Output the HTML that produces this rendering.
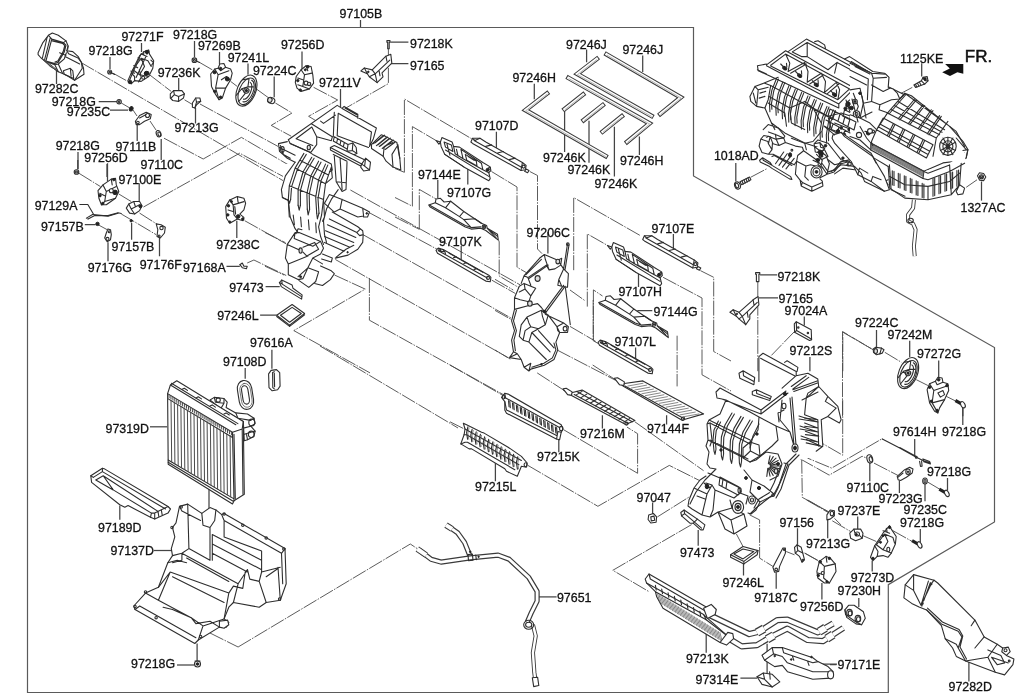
<!DOCTYPE html>
<html><head><meta charset="utf-8"><title>97105B</title>
<style>html,body{margin:0;padding:0;background:#fff}svg{display:block;will-change:transform}text{font-family:"Liberation Sans",sans-serif;font-size:13px;fill:#111;stroke:#111;stroke-width:.3px}.f{fill:none;stroke:#5a5a5a;stroke-width:1.2}.l{fill:none;stroke:#444;stroke-width:1.25}.d{fill:none;stroke:#4a4a4a;stroke-width:.9;stroke-dasharray:15 1.3 1.5 1.3}.p{fill:#fff;stroke:#2e2e2e;stroke-width:1.1;stroke-linejoin:round}.q{fill:none;stroke:#2e2e2e;stroke-width:1.1;stroke-linejoin:round;stroke-linecap:round}.t{fill:none;stroke:#555;stroke-width:.7}.u{fill:none;stroke:#4a4a4a;stroke-width:1}.g{fill:#ddd;stroke:#2e2e2e;stroke-width:1.1;stroke-linejoin:round}.k{fill:#222;stroke:#222;stroke-width:1}.w{fill:#fff;stroke:none}</style></head><body>
<svg width="1024" height="700" viewBox="0 0 1024 700">
<path class="f" d="M27.5 27.5H693.5V176L994.5 347.5V522L888.3 584.7V692.5H27.5Z"/>
<path class="l" d="M141.5 43 141.5 52M194.5 41 194.5 57M219.5 52 219.5 64M110 57 110 69M178.7 78 178.7 90M56.5 70.5 56.5 84M340.5 89 340.5 107M98.7 101.7 117 101.7M110 110 128 110M195.5 108 195.5 123.5M137.2 124 137.2 141M161.2 139 161.2 160M78 152 78 169M107 164 107 177"/>
<path class="l" d="M248 63.5 248 74.8M274.2 76.5 274.2 97.2M302 51.6 302 69"/>
<path class="d" d="M199.5 62.4 212.3 69.8M230.6 81.4 237.2 86.4M256.3 88.9 268.8 98M275.4 103 292 113 271.2 125.4 291.2 136.2M313.6 87.3 337.7 100 308.6 116.3 316.9 121.3"/>
<path class="d" d="M81 62.5 283 180.6M113 73.2 128 81.5M149.6 74.8 171.2 91.4M184.5 99.8 195 106M200 104 278 146.4M121.3 103 131.3 108.9M133 110 137 116M150 121 156 130M164 138.2 203.2 159 241.4 137.4 291.2 166.5M143.5 207 239.7 153.2 283 176.4"/>
<path class="l" d="M84.8 224.7 95.6 224.7M131.6 223.1 131.6 239.7M108 242.2 108 261.3M159.5 238 159.5 256.3M139.2 183.2 139.2 201.5M107.5 163.3 107.5 181.6M77.8 160 77.8 169.6"/>
<path class="d" d="M79 173.3 100.5 186.6M118.8 194 131.2 201.5M139.6 213.1 157.8 224.7M121.3 214 131.2 219.8 156.2 234.7M98 224.7 107.2 229.7"/>
<path class="d" d="M265 232.5 285.5 242.7M265 266.2 284 275"/>
<path class="d" d="M350.4 190 523.8 286.9M368 212 437.2 249.3M362.2 234.2 511.3 318.2M335.4 259.5 509.2 358.3M369.4 278 369.4 320.2 505.6 395.9M320 346 458 428M491.7 280.1 515.4 293.5"/>
<path class="l" d="M236.8 220.7 236.8 238.1M226.5 266.3 239.8 266.3"/>
<path class="d" d="M244.7 220.7 286.2 243.9M247.2 263 253.9 260 286.2 275.5"/>
<path class="l" d="M265.6 286.6 279.7 286.6M260.1 315.2 276.7 315.2M271.9 349.7 271.9 368.8M245.2 367.9 245.2 378.7"/>
<path class="d" d="M334.5 275 365.2 289.1 293.8 330.6 370 372.9"/>
<path class="l" d="M360.5 20 360.5 27"/>
<path class="l" d="M390.4 42.2 408.4 42.2M390.4 63.5 408.4 63.5"/>
<path class="d" d="M388.4 48.8 388.4 83.6 345.9 108"/>
<path class="l" d="M496.4 131.7 496.4 148.6M467.8 169.1 467.8 184.5"/>
<path class="l" d="M437.8 180 437.8 198.3M461.2 245.9 461.2 259.1"/>
<path class="d" d="M404.4 172.3 404.4 99 472 139M529.8 171.5 537.5 175.5 537.5 249 542 253.6M412.4 206.2 412.4 126.6 436 140.5M491.5 171.5 517 187 517 267.2 527 273M419.3 229.3 419.3 189.4 436 199M498.8 240.4 499.2 242 499.2 276 523.6 290.4M395 168.5 404.4 172.3M395 197.5 412.4 206.2M395 217 419.3 229.3M573.7 270.2 573.7 197.6 640 235.4M587.3 306.6 587.3 233.9 608.5 246M593.4 339.9 593.4 289.9 602.5 296"/>
<path class="l" d="M534.3 83.7 534.3 99.3M586.6 49.5 586.6 62.2M642.7 55.4 642.7 72M564.6 110.1 564.6 152.1M589 120.8 589 162.8M614.4 126.7 614.4 176.5M639.4 136.4 639.4 155"/>
<path class="l" d="M735.8 163.1 735.8 181.4"/>
<path class="d" d="M750.8 177.2 766.5 168.9"/>
<path class="l" d="M921.7 63.3 921.7 76.6"/>
<path class="d" d="M912.3 87.4 899.8 94"/>
<path class="l" d="M981.5 181.5 981.5 200.6"/>
<path class="d" d="M966.2 187.3 977 179.8"/>
<path class="l" d="M547.9 232.1 547.9 253.6"/>
<path class="d" d="M495 279.3 513.2 290M495 310.4 512.1 320M495 350 511.1 359.6M570 326.4 595.7 341.4M557.1 350 615 380M570 290 585 300.7"/>
<path class="l" d="M673.4 234 673.4 250M638.5 274 638.5 287M637.3 310.5 652.3 310.5M635.6 347.5 635.6 360"/>
<path class="d" d="M700.4 270.6 713.7 277.3 713.7 351.5 731 361M663.1 277.3 702 298 702 374.8 731 391M677.1 335.7 677.1 386.4M593.2 300 593.2 340.7 598.2 343.5"/>
<path class="l" d="M666.6 415.2 666.6 424.4M602.4 415.2 602.4 428.4M558.8 431 558.8 452.2M495.4 462.7 495.4 481.2M652.6 502.4 652.6 514.3"/>
<path class="d" d="M450 365 502.8 395.4M450 421.8 463.2 428.4M563.6 429.7 637.6 473.3 637.6 433.7 627 427.1M527.9 465.4 597.9 506.3 669.3 465.4 703.6 482.6M634.9 421.8 703.6 470.7M537.2 372.9 563.6 390.1M592.7 365 615.1 379.5M657.4 516.9 693.1 494.5"/>
<path class="d" d="M691.6 524.6 612.8 570.3 648.9 591.6"/>
<path class="l" d="M150 426.8 167.2 426.8"/>
<path class="l" d="M209 489 209 532.9"/>
<path class="l" d="M119.8 505.6 119.8 519.7"/>
<path class="l" d="M153.8 550.5 172 550.5"/>
<path class="l" d="M197.1 643.5 197.1 661.1"/>
<path class="d" d="M210 633 238.1 647"/>
<path class="d" d="M238.1 647 410.3 544 418.7 549.6"/>
<path class="l" d="M177 665 194 665"/>
<path class="l" d="M538.5 596.9 556.6 596.9"/>
<path class="l" d="M698.2 529.9 698.2 545.7M743.5 563.9 743.5 575.5M776.2 572.2 776.2 588.8M797.5 528.2 797.5 544.8M821.9 583 821.9 599.6M827.7 519.9 827.7 538.2"/>
<path class="d" d="M736.4 534 743 546.5M749.7 514.9 759.6 519.9 759.6 558.1 772.9 566.4M786.2 551.5 794.5 554.8M804.5 553.1 819.4 561.4M807.8 500 827.7 511.6M834.4 518.3 841 524.9"/>
<path class="l" d="M876.5 329.9 876.5 347.3M909.7 340.7 909.7 357.3M938.7 360.6 938.7 377.2M962.8 407.1 962.8 416.2"/>
<path class="d" d="M842.5 416.2 842.5 331.5 873.2 349.8M884.8 352.3 901.4 362.3M916.3 379.7 927.9 385.5M946.2 396.3 957.8 402.1"/>
<path class="l" d="M914.7 439 914.7 456.4M962.8 407.5 962.8 424.9M869.8 463.1 869.8 481.3M899.4 480.5 899.4 493M925 483.8 925 501.3M947.5 478 947.5 490.5"/>
<path class="d" d="M874 463.1 898.1 475.5M927.9 482.2 940.4 489.6"/>
<path class="d" d="M842.7 400 842.7 455.2 800 430.5M797.6 454 831.6 468.1 882 438.8 883 439.3M799.9 458.7 829.2 475.1 862.1 456.3 866.8 458.1M801.7 458.7 802.3 497.4 829.5 512.2"/>
<path class="l" d="M857.7 516.6 857.7 529.1M872.2 560.6 872.2 571.4M920.3 529.1 920.3 542.3"/>
<path class="d" d="M806.6 500 828.2 512.5M832.3 520.8 850.6 531.5M863 535.7 876.3 541.5M892.9 530.7 913.7 542.3M804.9 553.1 818.2 560.6"/>
<path class="l" d="M968.9 661 968.9 681.4M858.8 597.9 858.8 607.1M830 664.7 836.5 664.7"/>
<path class="l" d="M706.2 633.6 706.2 652.7M820.4 664.1 836.9 664.1M740.4 678.1 757 678.1M767.1 643.8 767.1 673"/>
<path class="l" d="M760.1 274.9 777.2 274.9M758.9 297.8 778 297.8M804.3 316.4 804.3 325.6M809.9 357.1 809.9 371.2"/>
<path class="d" d="M757.8 281.6 757.8 371.2M794.6 331.4 771.4 355.4M842.8 371.2 842.8 332.2 871 348.5"/>
<path class="p" d="M38.1 52.8 42.9 42.6 48.4 35.3 52.3 33.1 58.3 35.3 66 40.9 68.1 46 66.8 50.7 72.8 51.6 78 56.3 81.4 62.3 83.5 68.3 84 74.3 74.6 80.3 67.7 76 62.6 73.4 58.3 71.7 54.8 69.1 50.6 66.6 45.4 61.4 41.1 58 38.1 54.6Z"/>
<path class="q" d="M47.1 37.4 42.4 58M50.1 38.3 44.6 59.7M51.8 39.1 45.9 61M48.4 35.3 51.8 39.1 63.4 42.6 66 40.9M63.4 42.6 66 45.1 64.3 52 58.3 62.3 54.8 63.6 45.9 61M52.3 40.9 62.6 43.4 64.7 45.6 63.2 51.6 57.8 61 55 62.1M59.6 52.8 66 55.4M66.4 52.8 64.3 58.8 58.3 64 54.8 64.8 45.4 61.4M66 57.1 79.7 64M66.8 50.7 68.6 53.7 78 58 81.4 62.3M68.1 46 67.7 49.4M63.4 70.8 70.3 68.3 72.8 70.8 73.7 78.6 64.3 74.3 63.4 70.8M70.3 68.3 71.1 76M58.3 64 62.6 73.4M81.4 62.3 82.3 68.3 74.6 80.3M54.8 64.8 58.3 71.7"/>
<path class="u" d="M42.9 59.9 55.7 70.2M43.7 59.3 56.6 69.6"/>
<path class="p" d="M127.9 80.6 131.2 73.1 139.6 55.7 144.5 51.6 148.7 49.9 149.5 54.1 153.7 60.7 152.8 68.2 148.7 76.5 141.2 81.4 134.6 80.6 131.2 83.9Z"/>
<path class="q" d="M132.9 69.8 141.2 58.2 147.9 60.7 151.2 66.5M132.9 69.8 139.6 74.8 148.7 76.5M139.6 74.8 144.5 66.5 141.2 58.2M131.2 73.1 134.6 76.5 134.6 80.6M141.2 54.1 147 56.5M143.7 51.6 143.7 54.9"/>
<ellipse class="k" cx="146.2" cy="73.6" rx="1.8" ry="1.8"/>
<ellipse class="k" cx="147.0" cy="52.4" rx="1.3" ry="1.7"/>
<ellipse class="k" cx="129.6" cy="82.3" rx="1.3" ry="1.3"/>
<ellipse class="p" cx="143.2" cy="77.8" rx="1.5" ry="1.5"/>
<path class="q" d="M141.2 53.6 129.6 80M145.7 56.9 136.1 77.4M138 57.8 141.9 60.4M133.8 65.5 137.7 67.8M130.9 71 134.5 73.2M139.3 69.7 141.2 77.4 138.6 81.9M150.9 60.1 153.4 62.6 151.5 65.2"/>
<path class="u" d="M138.6 58.5 141.2 60.1M134.5 66.2 137 67.7M131.6 71.6 133.8 72.9"/>
<ellipse class="k" cx="146.7" cy="73.2" rx="2.4" ry="1.9"/>
<ellipse class="k" cx="147.0" cy="51.7" rx="1.8" ry="1.4"/>
<ellipse class="k" cx="130.3" cy="81.9" rx="1.4" ry="1.7"/>
<ellipse class="p" cx="109.7" cy="72.0" rx="2.0" ry="2.0"/>
<ellipse class="q" cx="109.7" cy="72.0" rx="0.8" ry="0.8"/>
<path class="q" d="M111.3 72.8 114.6 74.5"/>
<ellipse class="p" cx="119.1" cy="101.7" rx="2.2" ry="2.2"/>
<ellipse class="q" cx="119.1" cy="101.7" rx="0.8" ry="0.8"/>
<ellipse class="k" cx="131.2" cy="108.8" rx="1.7" ry="2.3" transform="rotate(30 131.2 108.8)"/>
<path class="p" d="M170.3 93.9 173.6 90.6 181.9 90.6 184.4 93.9 183.5 98 178.6 101.4 172.8 100.5 170.3 98Z"/>
<path class="q" d="M173.6 90.6 174.4 94.7 178.6 96.4 178.6 101.4M178.6 96.4 184.4 93.9M174.4 94.7 171.1 98"/>
<path class="p" d="M135.4 121.3 139.6 115.5 146.2 112.2 151.2 114.6 150.3 118.8 144.5 121.3 139.6 124.6 136.2 124.6Z"/>
<ellipse class="q" cx="147.5" cy="115.5" rx="2.0" ry="2.0"/>
<ellipse class="q" cx="137.9" cy="122.6" rx="1.3" ry="1.3"/>
<path class="q" d="M139.6 118 146.2 114.6"/>
<ellipse class="p" cx="158.6" cy="133.7" rx="2.3" ry="3.3" transform="rotate(-20 158.6 133.7)"/>
<ellipse class="q" cx="159.3" cy="134.1" rx="1.3" ry="2.2" transform="rotate(-20 159.3 134.1)"/>
<ellipse class="p" cx="194.4" cy="60.2" rx="2.3" ry="2.3"/>
<ellipse class="q" cx="194.4" cy="60.2" rx="1.0" ry="1.0"/>
<path class="q" d="M196.5 61 199.5 62.4"/>
<path class="p" d="M210.7 74 214.8 69 218.1 68.2 219.8 64 223.9 63.5 225.6 67.3 230.6 69 232.2 73.1 230.6 79.8 225.6 88.1 222.3 98 219 99.7 214.8 93.1 211.5 86.4Z"/>
<path class="q" d="M214.8 69 218.1 74.8 228.9 70.7M218.1 74.8 215.6 88.1 219 99.7M215.6 88.1 225.6 88.1M218.1 68.2 220.6 70.7 225.6 67.3M221.4 79.8 226.4 76.5 229.7 79.8"/>
<ellipse class="k" cx="214.5" cy="72.3" rx="1.5" ry="1.5"/>
<ellipse class="k" cx="227.3" cy="79.0" rx="2.0" ry="2.0"/>
<ellipse class="k" cx="220.6" cy="68.5" rx="1.2" ry="1.2"/>
<ellipse class="k" cx="214.8" cy="91.4" rx="1.2" ry="1.2"/>
<ellipse class="k" cx="220.6" cy="97.2" rx="1.2" ry="1.2"/>
<g transform="rotate(22 246.4 90.6)"><ellipse class="p" cx="246.4" cy="90.6" rx="9.3" ry="16.3"/><ellipse class="q" cx="247.0" cy="91.1" rx="7.6" ry="14"/><path class="q" d="M247.4 79.1A5.8 11.5 0 0 1 247.4 102.1"/><path class="q" d="M246.9 81.6A4 9 0 0 1 246.9 99.6"/><path class="q" d="M239.4 81.6L244.4 78.6L246.4 86.6L241.4 90.6L238.9 98.6M241.4 90.6L246.4 93.6L243.4 103.6M246.4 86.6L251.4 84.6"/><circle class="g" cx="246.4" cy="90.6" r="2.6"/><circle class="k" cx="246.4" cy="90.6" r="1"/></g>
<ellipse class="p" cx="271.2" cy="100.5" rx="3.7" ry="3.0" transform="rotate(20 271.2 100.5)"/>
<ellipse class="g" cx="269.9" cy="100.0" rx="2.2" ry="2.5" transform="rotate(20 269.9 100.0)"/>
<path class="p" d="M296.2 76.5 301.1 69.8 306.1 65.7 311.1 66.5 312.8 74.8 313.6 83.1 309.4 88.9 301.1 91.4 297 88.1 295.3 82.3Z"/>
<path class="q" d="M301.1 69.8 304.5 74.8 311.9 73.1M304.5 74.8 302.8 86.4 309.4 88.9M297.8 78.1 302.8 79.8M297.8 84.8 302.8 86.4M306.1 65.7 307.8 70.7"/>
<ellipse class="p" cx="306.1" cy="83.1" rx="2.0" ry="2.0"/>
<ellipse class="g" cx="309.1" cy="83.9" rx="1.7" ry="1.7"/>
<ellipse class="k" cx="307.8" cy="66.8" rx="1.3" ry="1.3"/>
<ellipse class="k" cx="297.8" cy="80.6" rx="1.2" ry="1.2"/>
<ellipse class="k" cx="300.3" cy="90.1" rx="1.2" ry="1.2"/>
<ellipse class="k" cx="305.3" cy="69.8" rx="1.0" ry="1.0"/>
<path class="p" d="M192.4 103 195.7 98 199.9 98 200.7 101.4 196.5 104.7 194.9 108 192.4 107.2Z"/>
<path class="q" d="M195.7 98 196.5 102.2 200.7 101.4M196.5 102.2 194.9 108"/>
<ellipse class="p" cx="76.5" cy="172.0" rx="2.3" ry="2.3"/>
<ellipse class="q" cx="76.5" cy="172.0" rx="1.0" ry="1.0"/>
<path class="p" d="M98 190.7 103 184.9 111.3 179.1 115.5 178.3 116.3 184.9 118.8 191.5 115.5 198.2 106.3 204.8 101.4 204.8 98.9 198.2Z"/>
<path class="q" d="M103 184.9 106.3 191.5 116.3 186.6M106.3 191.5 104.7 201.5 101.4 204.8M104.7 201.5 115.5 198.2M99.7 193.2 104.7 195.7M111.3 179.1 112.2 184.9"/>
<ellipse class="k" cx="115.1" cy="192.4" rx="2.3" ry="2.3"/>
<ellipse class="p" cx="111.3" cy="190.7" rx="2.0" ry="2.0"/>
<ellipse class="k" cx="113.8" cy="179.6" rx="1.2" ry="1.2"/>
<ellipse class="k" cx="100.0" cy="195.7" rx="1.2" ry="1.2"/>
<ellipse class="k" cx="102.7" cy="203.5" rx="1.2" ry="1.2"/>
<path class="p" d="M126.3 208.1 128.8 204 133.7 201.5 139.6 201.5 142 205.7 139.6 210.6 134.6 214 129.6 213.1Z"/>
<path class="q" d="M128.8 204 131.2 209 134.6 214M131.2 209 139.6 204.8M133.7 201.5 135.4 206.5"/>
<ellipse class="k" cx="140.4" cy="206.2" rx="1.5" ry="1.5"/>
<path class="q" d="M79.8 204.5 87.8 204.5 93.4 214 86.4 218.1 88.1 219.1 94.7 215.6 108 215.6 118 212.8 121.3 213.5"/>
<path class="q" d="M93.4 214.5 108 216.1 118 213.3"/>
<ellipse class="k" cx="97.5" cy="223.9" rx="1.7" ry="1.7"/>
<path class="p" d="M104.7 238 106.3 233 108 228.9 110.5 229.7 111.3 234.7 110.5 239.7 107.2 241.7Z"/>
<ellipse class="q" cx="107.5" cy="238.9" rx="1.5" ry="1.5"/>
<ellipse class="q" cx="109.2" cy="231.7" rx="1.0" ry="1.0"/>
<ellipse class="k" cx="131.2" cy="220.8" rx="1.2" ry="1.2"/>
<path class="p" d="M156.2 223.9 161.1 224.7 165.3 227.2 164.5 233 160.3 238 157 236.4 157.8 229.7Z"/>
<ellipse class="q" cx="161.5" cy="228.1" rx="1.7" ry="1.7"/>
<ellipse class="q" cx="159.1" cy="236.0" rx="1.0" ry="1.0"/>
<path class="w" d="M285.4 164.1 285.4 175.9 281.4 189.6 282.4 197.4 288.3 200.3 290.2 217 295.1 228.7 287.3 244.4 285.4 258.1 288.3 263.9 288.3 274.7 298.1 279.6 308.8 287.4 314.7 283.5 322.5 285.5 330.4 279.6 334.3 273.7 331.3 270.8 322.5 263.9 320.6 254.1 323.5 248.3 336.2 257.1 348 255.1 357.8 249.3 362.7 242.4 363.2 234.6 359.7 229.7 357.8 226.8 340.1 209.1 357.8 217 363.6 217 367.5 217 369.5 212.1 362.7 208.2 342.1 199.4 329.4 194.5 331.3 170 331.3 164.1Z"/>
<path class="w" d="M287.3 140.7 337.2 105.4 342.1 108.4 376.4 127.9 373.4 138.7 381.2 134.8 396.9 142.6 399.8 158.3 400.8 170 393 167.1 386.1 161.2 383.2 156.3 371.5 148.5 369.5 146.5 365.6 158.3 370.5 162.2 369.5 170 363.6 171 360.7 167.1 347 162.2 347 224.8 281.4 224.8 281.4 189.6 285.4 175.9 295.1 162.2 287.3 158.3 279.5 151.4 278.5 143.6Z"/>
<path class="q" d="M288.3 139.7 337.2 105.4 342.1 108.4 376.4 127.9 373.4 138.7 369.5 146.5M296.1 138.7 311.8 127M311.8 124 332.3 136.8 331.3 140.7 316.7 136.8 311.8 127M288.3 139.7 290.2 143.6 310.8 152.4 316.7 144.6 316.7 136.8M296.1 138.7 312.8 145.6M320.6 121.1 323.5 123.4 335.3 115.2M334.3 112.3 333.3 136.8M338.2 113.3 337.2 135.8M338.2 113.3 371.5 131.9 369.5 146.5M337.2 135.8 368.5 147.5M342.1 108.4 344.1 106.4 357.8 114.2 357.8 118.2M345 108 356.8 114.8"/>
<path class="q" d="M334.3 136.8 348 144.6M333.3 141.1 347 148.9M334.3 136.8 333.3 141.1M337.6 138.7 336.6 143M340.9 140.7 340 145M344.3 142.6 343.3 146.9"/>
<path class="p" d="M348 144.6 352.9 143 356.2 147.5 356.8 153.4 350.9 155.9 347 151.4Z"/>
<path class="q" d="M352.9 143 352.3 150.5 356.8 153.4M352.3 150.5 347 151.4"/>
<path class="p" d="M330.4 147.5 334.3 145.6 365.6 160.2 361.7 164.1 360.7 166.1 330.4 150.1Z"/>
<path class="q" d="M330.4 147.5 361.7 164.1"/>
<path class="p" d="M361.7 164.1 365.6 158.3 370.5 162.2 369.5 170 363.6 171 360.7 167.1Z"/>
<path class="q" d="M365.6 158.3 364.6 166.1 369.5 170M364.6 166.1 361.7 164.1"/>
<path class="p" d="M371.5 144.6 381.2 134.8 384.2 135.8 396.9 142.6 399.8 158.3 400.8 170 393 167.1 386.1 161.2 383.2 156.3 371.5 148.5Z"/>
<path class="q" d="M373.4 143.6 383.2 135.8M376.4 145.6 386.1 137.7M379.3 146.5 389.1 138.7M382.2 148.5 392 140.7M385.2 149.5 394.9 142.2M383.2 156.3 384.2 146.5 393 142.6M393 167.1 392 154.4 396.9 146.5M374.8 143 384.6 135.2M377.7 145 387.5 137.1M380.7 145.9 390.4 138.1M383.6 147.9 393.4 140.1M399.8 158.3 397.9 144.6"/>
<path class="q" d="M278.5 143.6 287.3 141.6M278.5 143.6 279.5 151.4 287.3 158.3 295.1 162.2M290.2 143.6 307.9 151.4 312.8 154.4 331.3 164.1 332.3 170 329.4 172M280.5 145.6 283.4 154.4 290.2 158.3M279.5 147.5 295.1 155.3"/>
<ellipse class="q" cx="282.4" cy="149.5" rx="1.8" ry="2.9"/>
<ellipse class="g" cx="308.8" cy="147.5" rx="1.6" ry="2.3"/>
<path class="q" d="M303.9 153.4 295.1 168.1 289.3 185.7 288.3 199.4M311.8 157.3 303 172 298.1 189.6 298.1 205.2M318.6 161.2 310.8 175.9 306.9 193.5 307.3 209.2M325.5 164.1 318.6 179.8 315.7 197.4 316.7 213.1M331.3 167.1 325.5 183.7 323.5 199.4 324.5 217M306.3 154.4 297.5 169 291.6 186.7 290.6 199.8M314.1 158.3 305.3 173 300.4 190.6 300.4 205.6M321 162.2 313.1 176.9 309.2 194.5 309.6 209.5M327.8 165.1 321 180.8 318 198.4 319 213.5M295.1 168.1 325.5 183.7M289.3 185.7 323.5 199.4M300 160.2 328.4 174.9M295.1 162.2 285.4 175.9 281.4 189.6 282.4 197.4 288.3 200.4 289.3 217M331.3 167.1 332.3 177.8 325.5 183.7"/>
<path class="q" d="M334.3 156.3 336.2 181.8 342.1 191.5 346 189.6 347 162.2M340.1 158.3 342.1 189.6M336.2 181.8 346 182.7M333.3 154.4 347 161.2"/>
<path class="q" d="M282.4 197.4 288.3 200.3 290.2 217 295.1 228.7 298.1 232.6M324.5 217 322.5 221.3M288.3 199.4 289.5 203.3 290.6 199.4M298.1 205.2 299.2 210.1 300.4 205.2M307.3 209.1 308.1 215 309.6 209.1M316.7 213.1 317.4 218.9 319 213.1M323.5 199.4 321.6 215 318.6 226.8 320.6 236.5 323.5 244.4M338.2 189.6 331.3 199.4 326.5 209.1 323.5 220.9 324.5 234.6 326.5 242.4M300.6 217 301.4 226.8M308.4 219.9 309.2 229.7M315.7 222.8 316.3 232.6M293.2 215 294.4 224.8"/>
<path class="q" d="M329.4 194.5 342.1 199.4 362.7 208.2 363.6 216 357.8 217 340.1 209.1M362.7 208.2 369.5 212.1 367.5 217 363.6 217M329.4 194.5 324.5 203.3 334.3 212.1 340.1 209.1M342.1 199.4 340.1 209.1"/>
<ellipse class="k" cx="366.8" cy="213.4" rx="0.8" ry="0.8"/>
<path class="q" d="M332.3 212.1 357.8 226.8 362.7 230.7 363.2 234.6 362.7 242.4 357.8 249.3 348 255.1 335.3 258.1M329.4 218.9 356.8 232.6M327.4 224.8 355.8 237.5M325.5 230.7 353.8 242.4M324.5 236.5 349.9 247.3M324.5 242.4 344.1 251.2M336.2 257.1 346 249.3 353.8 245.3M359.7 229.7 356.8 232.6 359.7 235.6 363.2 234.6"/>
<ellipse class="k" cx="347.6" cy="252.2" rx="0.7" ry="0.7"/>
<path class="q" d="M285.4 258.1 287.3 244.4 295.1 232.6 299.1 232.6 320.6 241.4 323.5 248.3 320.6 254.1 312.8 258.1 307.9 267.8 303 278.6 298.1 279.6 288.3 274.7 288.3 263.9 285.4 258.1M295.1 232.6 294.2 238.5 312.8 246.3 320.6 241.4M303 247.3 314.7 242.4 318.6 249.3 306.9 256.1 303 252.2M287.3 244.4 300 250.2M288.3 263.9 307.9 256.1M307.9 267.8 298.1 276.7M307.9 267.8 318.6 271.8 315.7 281.5 308.8 287.4 299.1 280.6M314.7 283.5 322.5 285.5 330.4 279.6 334.3 273.7 331.3 270.8 320.6 265.9M322.5 254.1 332.3 258.1 331.3 262 321.6 259M296.1 233.6 298.1 228.7 302 229.7M312.8 258.1 322.5 263.9"/>
<ellipse class="g" cx="300.6" cy="250.6" rx="1.6" ry="2.7"/>
<ellipse class="k" cx="300.6" cy="276.7" rx="1.0" ry="1.0"/>
<path class="p" d="M225.7 206.6 229.8 199.9 237.3 196.6 243.9 198.3 245.6 203.3 243.9 209.9 239.8 214.1 243.9 217.4 243.1 220.7 237.3 219 229.8 223.2 226.5 218.2Z"/>
<path class="q" d="M229.8 199.9 233.1 204.9 243.9 201.6M233.1 204.9 234 214.9 237.3 219M228.1 209.9 233.1 211.6M237.3 196.6 238.1 202.4M234.8 206.6 235.6 214.1"/>
<ellipse class="k" cx="238.1" cy="216.5" rx="1.8" ry="1.8"/>
<ellipse class="k" cx="242.8" cy="219.0" rx="1.2" ry="1.2"/>
<ellipse class="k" cx="228.5" cy="205.8" rx="1.2" ry="1.2"/>
<ellipse class="k" cx="227.8" cy="214.9" rx="1.2" ry="1.2"/>
<ellipse class="k" cx="229.8" cy="221.9" rx="1.0" ry="1.0"/>
<ellipse class="k" cx="231.5" cy="201.6" rx="1.0" ry="1.0"/>
<path class="q" d="M239.8 264.7 242.3 263 243.9 266.3 247.2 266.3 246.4 268.8 242.3 267.7 239.8 264.7"/>
<path class="p" d="M279.4 282.5 281.7 280 292.1 284.9 293 288.3 302.1 294.9 301.6 299.1 290.5 292.4 281.3 286.6Z"/>
<path class="q" d="M281.7 280 282.2 284.1 301.6 296.6M282.2 284.1 279.4 282.5"/>
<path class="p" d="M276.7 315.2 292.1 304.5 304.6 313.5 289.6 325.1Z"/>
<path class="p" d="M280.5 315.2 292.1 307.4 301.3 313.5 289.6 322.3Z"/>
<path class="q" d="M276.7 316.5 289.6 326.4 304.6 314.8M289.6 325.1 289.6 326.4"/>
<path class="p" d="M386.9 40.6 390 40.6 390 42.2 389.2 42.2 389.2 48.8 387.7 48.8 387.7 42.2 386.9 42.2Z"/>
<path class="p" d="M360.9 70.9 364.4 68 372.2 69.9 385.9 56.2 390.8 54.3 391.8 63.1 382 72.9 383 76.8 377.1 82.6 369.3 76.8 367.3 73.8Z"/>
<path class="q" d="M372.2 69.9 375.2 73.8 389.8 60.2M375.2 73.8 377.1 82.6M364.4 68 367.3 73.8M375.2 73.8 369.3 76.8M379.1 70.9 380 75.8M385.9 56.2 386.9 61.1"/>
<ellipse class="k" cx="368.3" cy="71.9" rx="0.8" ry="0.8"/>
<path class="p" d="M470.9 142 472.6 138.3 480 138.3 485.8 142 522.4 162.5 526.1 165.4 525.4 169.8 521 170.5 472.6 143.4Z"/>
<path class="q" d="M474.1 140.5 521 166.9M485.8 146.4 491.7 144.9M497.5 153 503.4 151.5M509.3 159.6 515.1 158.1M472.6 138.3 474.8 140.5 480 138.3M521 170.5 522.4 162.5"/>
<path class="p" d="M526.1 169.1 529 170.5 527.6 172.7 524.6 171.3Z"/>
<ellipse class="q" cx="523.6" cy="166.6" rx="1.5" ry="1.5"/>
<path class="p" d="M440.4 142 441.9 137.6 452.1 142 453.6 146.4 459.5 147.1 482.9 162.5 490.2 166.9 490.9 170.5 488.8 172.7 490.2 178.6 488.8 180.8 463.8 166.9 444.8 154.4 441.1 146.4Z"/>
<path class="q" d="M444.1 142 451.4 144.9 452.9 151.5 445.5 147.1 444.1 142M447 144.2 449.9 155.2M444.8 154.4 463.8 166.9M460.9 149.3 481.4 163.2 482.9 169.8 463.1 158.8 460.9 149.3M465.3 154.4 466.8 160.3 477 166.1 476.3 161 465.3 154.4M453.6 146.4 455.1 153.7 463.1 158.8M468.2 156.6 474.1 160.3M445.5 150 488.8 176.4M482.9 169.8 488.8 172.7M456.5 149.3 458 155.9"/>
<path class="q" d="M436 140.5 440.4 142 438.9 144.2 436 140.5"/>
<ellipse class="k" cx="487.6" cy="169.8" rx="1.5" ry="1.5"/>
<ellipse class="q" cx="489.5" cy="168.3" rx="1.0" ry="1.0"/>
<path class="p" d="M428.7 204.9 435.3 202.7 436 199 440.4 198.3 444.1 202 450.7 201.2 463.8 211.5 481.4 223.2 486.6 225.4 487.3 228.3 497.5 234.2 498.3 240.1 485.8 230.5 480.7 228.3 471.2 229.1 465.3 226.9 430.2 207.1Z"/>
<path class="q" d="M445.5 207.8 450.7 201.2M445.5 207.8 459.5 216.6 463.8 211.5M459.5 216.6 463.8 219.6 474.8 218.8 481.4 223.2M463.8 219.6 471.2 227.6M430.2 205.6 465.3 225.4 471.2 227.6 480.7 226.9M435.3 202.7 445.5 207.8M487.3 228.3 496.1 237.9M490.2 230.5 497.5 236.4"/>
<ellipse class="g" cx="483.9" cy="226.9" rx="1.8" ry="1.8"/>
<ellipse class="k" cx="483.9" cy="226.9" rx="0.7" ry="0.7"/>
<path class="p" d="M436 250.3 438.2 248.1 443.3 249.6 488.8 275.2 490.9 277.4 490.2 281.8 485.8 281.1 437.5 253.2Z"/>
<path class="q" d="M438.9 251 487.3 278.1M444.8 251 445.5 254M449.2 253.2 482.9 272.3M453.6 257.6 456.5 256.9M463.8 263.5 466.8 262.8M474.1 269.4 477 268.6M443.3 249.6 444.1 251.8 438.2 250.6"/>
<ellipse class="q" cx="488.0" cy="277.9" rx="1.5" ry="1.5"/>
<ellipse class="q" cx="439.7" cy="250.0" rx="1.0" ry="1.0"/>
<path d="M547 93.5 525.5 110.1 605.6 156" fill="none" stroke="#3a3a3a" stroke-width="4.6" stroke-linejoin="miter" stroke-linecap="square"/>
<path d="M547 93.5 525.5 110.1 605.6 156" fill="none" stroke="#fff" stroke-width="2.6" stroke-linejoin="miter" stroke-linecap="square"/>
<path d="M547 93.5 525.5 110.1 605.6 156" fill="none" stroke="#888" stroke-width=".6" transform="translate(0.2,0.6)"/>
<path d="M596.8 58.9 577.3 73.9 651.5 115.9" fill="none" stroke="#3a3a3a" stroke-width="4.6" stroke-linejoin="miter" stroke-linecap="square"/>
<path d="M596.8 58.9 577.3 73.9 651.5 115.9" fill="none" stroke="#fff" stroke-width="2.6" stroke-linejoin="miter" stroke-linecap="square"/>
<path d="M596.8 58.9 577.3 73.9 651.5 115.9" fill="none" stroke="#888" stroke-width=".6" transform="translate(0.2,0.6)"/>
<path d="M606.6 54.4 680.8 97.4 660.3 114" fill="none" stroke="#3a3a3a" stroke-width="4.6" stroke-linejoin="miter" stroke-linecap="square"/>
<path d="M606.6 54.4 680.8 97.4 660.3 114" fill="none" stroke="#fff" stroke-width="2.6" stroke-linejoin="miter" stroke-linecap="square"/>
<path d="M606.6 54.4 680.8 97.4 660.3 114" fill="none" stroke="#888" stroke-width=".6" transform="translate(0.2,0.6)"/>
<path d="M568.5 77.9 649.5 123.4 627.1 141.9" fill="none" stroke="#3a3a3a" stroke-width="4.6" stroke-linejoin="miter" stroke-linecap="square"/>
<path d="M568.5 77.9 649.5 123.4 627.1 141.9" fill="none" stroke="#fff" stroke-width="2.6" stroke-linejoin="miter" stroke-linecap="square"/>
<path d="M568.5 77.9 649.5 123.4 627.1 141.9" fill="none" stroke="#888" stroke-width=".6" transform="translate(0.2,0.6)"/>
<path d="M583.1 94.5 564.6 109.1" fill="none" stroke="#3a3a3a" stroke-width="4.6" stroke-linejoin="miter" stroke-linecap="square"/>
<path d="M583.1 94.5 564.6 109.1" fill="none" stroke="#fff" stroke-width="2.6" stroke-linejoin="miter" stroke-linecap="square"/>
<path d="M583.1 94.5 564.6 109.1" fill="none" stroke="#888" stroke-width=".6" transform="translate(0.2,0.6)"/>
<path d="M602.7 105.2 583.7 120.2" fill="none" stroke="#3a3a3a" stroke-width="4.6" stroke-linejoin="miter" stroke-linecap="square"/>
<path d="M602.7 105.2 583.7 120.2" fill="none" stroke="#fff" stroke-width="2.6" stroke-linejoin="miter" stroke-linecap="square"/>
<path d="M602.7 105.2 583.7 120.2" fill="none" stroke="#888" stroke-width=".6" transform="translate(0.2,0.6)"/>
<path d="M621.8 116.3 602.7 131.6" fill="none" stroke="#3a3a3a" stroke-width="4.6" stroke-linejoin="miter" stroke-linecap="square"/>
<path d="M621.8 116.3 602.7 131.6" fill="none" stroke="#fff" stroke-width="2.6" stroke-linejoin="miter" stroke-linecap="square"/>
<path d="M621.8 116.3 602.7 131.6" fill="none" stroke="#888" stroke-width=".6" transform="translate(0.2,0.6)"/>
<path class="w" d="M539.5 258.3 544.3 254.5 557.8 260.2 561.7 258.3 563.6 268.9 568.4 273.7 567.5 287.2 565.5 288.2 570.3 324.8 568.4 326.7 567.5 332.5 559.7 332.5 555.9 342.1 557.8 349.9 554 359.5 544.3 365.3 530.8 369.1 528.9 371 524.1 367.2 521.2 359.5 509.6 357.6 513.5 351.8 511.6 340.2 514.5 330.6 511.6 320.9 514.5 309.4 514.5 297.8 519.3 286.3 524.1 275.7Z"/>
<path class="q" d="M539.5 258.3 544.3 254.5 557.8 260.2 561.7 258.3 560.7 265.1 554.9 268.9 549.1 269.9 546.3 265.1 527.9 277.6 524.1 275.7 539.5 258.3M541.4 259.3 526 274.7M548.2 265.1 528.9 278.5M544.3 254.5 545.3 259.3 549.1 269.9M519.3 286.3 524.1 283.4 535.7 288.2 530.8 295.9 528.9 301.7 520.2 299.7 514.5 297.8 519.3 286.3M524.1 283.4 525.1 289.1 530.8 295.9M525.1 289.1 519.3 292M524.1 275.7 521.2 283.4M527.9 277.6 530.8 285.3M567.5 243.9 563.6 268.9M569 244.8 565.1 269.3M557.8 260.2 563.6 268.9 568.4 273.7 567.5 287.2 561.7 286.3 558.8 279.5 563.6 268.9M558.8 279.5 557.8 285.3 561.7 286.3M563.6 285.3 544.3 311.3M565.1 286.3 545.9 312.3M565.5 288.2 570.3 324.8M514.5 297.8 514.5 309.4 511.6 320.9 514.5 330.6 511.6 340.2 513.5 351.8 509.6 357.6 521.2 359.5 524.1 367.2 528.9 371M514.5 309.4 528.9 305.5 537.6 303.6 541.4 307.5 544.3 311.3M516.4 310.3 513.5 320.9 516.4 330.6 513.9 340.2 515.4 350.8M521.2 324.8 527 317.1 541.4 310.3 548.2 315.2 545.3 324.8 538.5 328.7 530.8 326.7 525.1 330.6 523.1 340.2 528.9 342.1 531.8 332.5 538.5 328.7M527 317.1 528.9 322.9 530.8 326.7M541.4 310.3 542.4 316.1 545.3 324.8M521.2 324.8 519.3 336.4 523.1 340.2M545.3 314.2 563.6 322.9 568.4 326.7 567.5 332.5 559.7 332.5 556.9 326.7 563.6 322.9M556.9 326.7 557.8 330.6 559.7 332.5M548.2 315.2 556.9 326.7M555.9 342.1 557.8 349.9 554 359.5 544.3 365.3 530.8 369.1 528.9 371M554 343.1 555.9 349.9 552.4 357.9 543.9 363.3 531.8 367.2M531.8 332.5 550.1 351.8M538.5 330.6 554 347.9M528.9 342.1 546.3 359.5M509.6 357.6 517.3 353.7 521.2 359.5M524.1 367.2 530.8 363.3 528.9 371M513.5 351.8 517.3 353.7M559.7 332.5 555.9 342.1M528.9 301.7 528.9 305.5"/>
<ellipse class="g" cx="537.6" cy="278.5" rx="2.5" ry="2.9"/>
<ellipse class="g" cx="557.8" cy="261.6" rx="1.9" ry="2.3"/>
<ellipse class="g" cx="529.9" cy="303.6" rx="2.3" ry="2.7"/>
<ellipse class="k" cx="544.7" cy="311.7" rx="1.3" ry="1.3"/>
<ellipse class="q" cx="567.8" cy="244.2" rx="1.3" ry="1.3"/>
<ellipse class="q" cx="565.1" cy="328.7" rx="1.9" ry="2.3"/>
<ellipse class="k" cx="541.4" cy="364.3" rx="0.8" ry="0.8"/>
<path class="p" d="M642.7 239.5 644.4 235.8 651.8 235.8 657.6 239.5 694.2 260 697.9 262.9 697.2 267.3 692.8 268 644.4 240.9Z"/>
<path class="q" d="M645.9 238 692.8 264.4M657.6 243.9 663.5 242.4M669.3 250.5 675.2 249M681.1 257.1 686.9 255.6M644.4 235.8 646.6 238 651.8 235.8M692.8 268 694.2 260"/>
<path class="p" d="M697.9 266.6 700.8 268 699.4 270.2 696.4 268.8Z"/>
<ellipse class="q" cx="695.4" cy="264.1" rx="1.5" ry="1.5"/>
<path class="p" d="M611.8 247 613.3 242.6 623.5 247 625 251.4 630.9 252.1 654.3 267.5 661.6 271.9 662.3 275.5 660.1 277.7 661.6 283.6 660.1 285.8 635.2 271.9 616.2 259.4 612.5 251.4Z"/>
<path class="q" d="M615.5 247 622.8 249.9 624.3 256.5 616.9 252.1 615.5 247M618.4 249.2 621.3 260.2M616.2 259.4 635.2 271.9M632.3 254.3 652.8 268.2 654.3 274.8 634.5 263.8 632.3 254.3M636.7 259.4 638.2 265.3 648.4 271.1 647.7 266 636.7 259.4M625 251.4 626.5 258.7 634.5 263.8M639.6 261.6 645.5 265.3M616.9 255 660.1 281.4M654.3 274.8 660.1 277.7M627.9 254.3 629.4 260.9"/>
<path class="q" d="M607.4 245.5 611.8 247 610.3 249.2 607.4 245.5"/>
<ellipse class="k" cx="659.0" cy="274.8" rx="1.5" ry="1.5"/>
<ellipse class="q" cx="660.9" cy="273.3" rx="1.0" ry="1.0"/>
<path class="p" d="M598.7 302.4 605.3 300.2 606 296.5 610.4 295.8 614.1 299.5 620.7 298.7 633.8 309 651.4 320.7 656.6 322.9 657.3 325.8 667.5 331.7 668.3 337.6 655.8 328 650.7 325.8 641.2 326.6 635.3 324.4 600.2 304.6Z"/>
<path class="q" d="M615.5 305.3 620.7 298.7M615.5 305.3 629.5 314.1 633.8 309M629.5 314.1 633.8 317.1 644.8 316.3 651.4 320.7M633.8 317.1 641.2 325.1M600.2 303.1 635.3 322.9 641.2 325.1 650.7 324.4M605.3 300.2 615.5 305.3M657.3 325.8 666.1 335.4M660.2 328 667.5 333.9"/>
<ellipse class="g" cx="653.9" cy="324.4" rx="1.8" ry="1.8"/>
<ellipse class="k" cx="653.9" cy="324.4" rx="0.7" ry="0.7"/>
<path class="p" d="M598 342.3 600.2 340.1 605.3 341.6 650.8 367.2 652.9 369.4 652.2 373.8 647.8 373.1 599.5 345.2Z"/>
<path class="q" d="M600.9 343 649.3 370.1M606.8 343 607.5 346M611.2 345.2 644.9 364.3M615.6 349.6 618.5 348.9M625.8 355.5 628.8 354.8M636.1 361.4 639 360.6M605.3 341.6 606.1 343.8 600.2 342.6"/>
<ellipse class="q" cx="650.0" cy="369.9" rx="1.5" ry="1.5"/>
<ellipse class="q" cx="601.7" cy="342.0" rx="1.0" ry="1.0"/>
<path class="p" d="M501.5 397.5 504.8 393.3 508.1 394.1 561.2 424.8 562.9 429 561.2 432.3 559.6 439.8 556.3 439 506.5 413.2 504.8 409.9 504.8 401.6Z"/>
<path class="q" d="M504 397 559.9 427.8M506.5 409.9 556.6 435.6M504.8 401.6 506.5 409.9M561.2 432.3 557.9 431.5 556.6 439M504.8 393.3 505.6 398.3"/>
<path class="k" d="M508.5 400.3 509.1 407.2"/>
<path class="q" d="M509.8 401.3 510.3 407.6"/>
<path class="k" d="M512.4 402.5 513 409.4"/>
<path class="q" d="M513.7 403.5 514.2 409.8"/>
<path class="k" d="M516.3 404.7 516.9 411.6"/>
<path class="q" d="M517.6 405.7 518.1 412"/>
<path class="k" d="M520.2 406.8 520.8 413.8"/>
<path class="q" d="M521.5 407.8 522 414.2"/>
<path class="k" d="M524.1 409 524.7 416"/>
<path class="q" d="M525.4 410 525.9 416.3"/>
<path class="k" d="M528 411.2 528.6 418.2"/>
<path class="q" d="M529.3 412.2 529.8 418.5"/>
<path class="k" d="M531.9 413.4 532.5 420.4"/>
<path class="q" d="M533.2 414.4 533.7 420.7"/>
<path class="k" d="M535.8 415.6 536.4 422.6"/>
<path class="q" d="M537.1 416.6 537.6 422.9"/>
<path class="k" d="M539.7 417.8 540.3 424.8"/>
<path class="q" d="M541 418.8 541.5 425.1"/>
<path class="k" d="M543.6 420 544.2 427"/>
<path class="q" d="M544.9 421 545.4 427.3"/>
<path class="k" d="M547.5 422.2 548.1 429.2"/>
<path class="q" d="M548.8 423.2 549.3 429.5"/>
<path class="k" d="M551.4 424.4 552 431.4"/>
<path class="q" d="M552.7 425.4 553.2 431.7"/>
<path class="k" d="M555.3 426.6 555.9 433.5"/>
<path class="q" d="M556.6 427.6 557.1 433.9"/>
<ellipse class="q" cx="561.2" cy="428.5" rx="1.7" ry="2.3"/>
<ellipse class="q" cx="503.5" cy="397.0" rx="1.3" ry="2.0"/>
<path class="p" d="M463.3 423.2 466.6 424.8 481.6 432.3 484.1 433.1 508.1 447.3 510.6 448.9 521.4 456.4 527.2 463 526.4 467.2 521.4 466.3 517.3 476.3 506.5 471.3 504.8 468.8 471.6 448.9 469.1 448.9 460.8 443.9 464.1 434.8 465 429Z"/>
<path class="q" d="M465 429 521.4 460.5M466.6 434.8 518.9 464.7M464.1 434.8 466.6 434.8M467.5 442.3 514.8 469.7M460.8 443.9 465 442.3 467.5 442.3"/>
<path class="q" d="M467.9 426.8 466.6 432.6 467.6 439.3"/>
<path class="t" d="M469.1 427.5 467.9 433.1 468.8 439.5"/>
<path class="q" d="M472.1 429.3 470.8 435.1 471.8 441.8"/>
<path class="t" d="M473.3 430 472.1 435.6 472.9 441.9"/>
<path class="q" d="M476.2 431.8 474.9 437.6 475.9 444.3"/>
<path class="t" d="M477.4 432.5 476.2 438.1 477.1 444.4"/>
<path class="q" d="M480.4 434.3 479.1 440.1 480.1 446.8"/>
<path class="t" d="M481.6 435 480.4 440.6 481.2 446.9"/>
<path class="q" d="M484.6 436.8 483.2 442.6 484.2 449.2"/>
<path class="t" d="M485.7 437.5 484.6 443.1 485.4 449.4"/>
<path class="q" d="M488.7 439.3 487.4 445.1 488.4 451.7"/>
<path class="t" d="M489.9 440 488.7 445.6 489.5 451.9"/>
<path class="q" d="M492.9 441.8 491.5 447.6 492.5 454.2"/>
<path class="t" d="M494 442.4 492.9 448.1 493.7 454.4"/>
<path class="q" d="M497 444.3 495.7 450.1 496.7 456.7"/>
<path class="t" d="M498.2 444.9 497 450.6 497.8 456.9"/>
<path class="q" d="M501.2 446.8 499.8 452.6 500.8 459.2"/>
<path class="t" d="M502.3 447.4 501.2 453.1 502 459.4"/>
<path class="q" d="M505.3 449.2 504 455.1 505 461.7"/>
<path class="t" d="M506.5 449.9 505.3 455.6 506.1 461.9"/>
<path class="q" d="M509.5 451.7 508.1 457.5 509.1 464.2"/>
<path class="t" d="M510.6 452.4 509.5 458 510.3 464.4"/>
<path class="q" d="M513.6 454.2 512.3 460 513.3 466.7"/>
<path class="t" d="M514.8 454.9 513.6 460.5 514.4 466.8"/>
<path class="q" d="M517.8 456.7 516.4 462.5 517.4 469.2"/>
<path class="t" d="M518.9 457.4 517.8 463 518.6 469.3"/>
<ellipse class="q" cx="525.6" cy="464.7" rx="1.5" ry="2.0"/>
<path class="p" d="M571.5 392.7 582.1 390.1 634.9 420.5 625.7 424.4 571.5 395.4Z"/>
<path class="q" d="M563.6 390.1 570.2 394.1M574.2 394.6 628.3 423.6M576.8 391.4 632.3 421.8"/>
<path class="q" d="M576.3 394.9 582.1 391.4"/>
<path class="q" d="M581 397.6 586.8 394.1"/>
<path class="q" d="M585.8 400.3 591.6 396.9"/>
<path class="q" d="M590.5 403 596.4 399.6"/>
<path class="q" d="M595.3 405.7 601.1 402.3"/>
<path class="q" d="M600.1 408.5 605.9 405"/>
<path class="q" d="M604.8 411.2 610.6 407.7"/>
<path class="q" d="M609.6 413.9 615.4 410.5"/>
<path class="q" d="M614.3 416.6 620.1 413.2"/>
<path class="q" d="M619.1 419.3 624.9 415.9"/>
<path class="q" d="M623.8 422.1 629.6 418.6"/>
<path class="p" d="M563.1 388.8 566.2 388.2 572.1 391.9 571.5 395.4 567.6 394.6Z"/>
<ellipse class="q" cx="626.5" cy="423.6" rx="1.6" ry="1.6"/>
<path class="p" d="M624.4 383.5 642.9 380.9 703.6 413.9 685.1 419.2 682.5 420.5 623 386.1Z"/>
<path class="q" d="M615.1 379.5 623 383.5M624.9 386.1 683.8 418.6"/>
<path class="t" d="M627.5 386.1 643.4 383.2"/>
<path class="t" d="M631 388.1 646.9 385.1"/>
<path class="t" d="M634.5 390 650.4 387.1"/>
<path class="t" d="M638 391.9 653.8 389"/>
<path class="t" d="M641.5 393.8 657.3 390.9"/>
<path class="t" d="M645 395.7 660.8 392.8"/>
<path class="t" d="M648.5 397.6 664.3 394.7"/>
<path class="t" d="M651.9 399.5 667.8 396.6"/>
<path class="t" d="M655.4 401.5 671.3 398.6"/>
<path class="t" d="M658.9 403.4 674.8 400.5"/>
<path class="t" d="M662.4 405.3 678.3 402.4"/>
<path class="t" d="M665.9 407.2 681.7 404.3"/>
<path class="t" d="M669.4 409.1 685.2 406.2"/>
<path class="t" d="M672.9 411 688.7 408.1"/>
<path class="t" d="M676.4 413 692.2 410"/>
<path class="t" d="M679.8 414.9 695.7 412"/>
<path class="t" d="M683.3 416.8 699.2 413.9"/>
<path class="p" d="M614.3 378.2 617.5 377.7 624.4 381.9 623.8 385.6 619.6 384.8Z"/>
<ellipse class="q" cx="683.0" cy="418.6" rx="1.6" ry="1.6"/>
<path class="p" d="M648.7 515.1 653.4 513.5 656.6 516.9 656.1 522.2 650.8 523 648.1 519.5Z"/>
<path class="q" d="M650.8 516.9 654 516.1 654.7 520.3 651.3 520.9 650.8 516.9"/>
<path class="w" d="M757.4 65.7 785.6 50.8 788.1 51.6 806.4 39.1 844.6 59.1 849.6 56.6 872.8 71.5 884.4 73.2 888.6 77.3 887.7 86.4 907.7 96.4 907.7 146.2 759.9 146.2 763.2 129.6 771.5 123 764.9 108 756.6 106.4 750.8 101.4 749.9 96.4 754.9 86.4 764.1 83.1 758.2 70.7Z"/>
<path class="q" d="M788.1 51.6 806.4 39.1 872.8 74 869.5 79.8 854.5 87.3M792.3 51.9 807.2 42.5 868.6 75.7 857 84M807.2 42.5 807.2 56.6 828 69.8 837.1 62.4 834.6 73.2M792.3 51.9 801.4 56.6 807.2 56.6M837.1 62.4 866.2 78.1M766.5 64.9 785.6 50.8 854.5 88.1 838.8 103.9 766.5 65.7M770.7 65.2 785.6 54.1 849.6 88.9 837.9 99.7 770.7 66M788.1 71.5 804.7 62.4M790.6 73.2 806.4 64M807.2 82.3 821.3 73.2M809.7 84 823.8 74.8M824.6 92.3 836.3 82.3M827.1 93.9 838.8 84M757.4 65.7 766.5 64M757.4 65.7 758.2 70.7 838.8 108M757.4 69.8 766.5 74M838.8 103.9 838.8 108M814.7 41.6 818 40.8 824.6 44.9 825.5 48.3M785.6 54.1 789.8 63.2 788.1 71.5M804.7 62.4 808 71.5 807.2 82.3M821.3 73.2 825.5 81.5 824.6 92.3M836.3 82.3 839.6 89.8 837.9 99.7"/>
<ellipse class="k" cx="784.8" cy="68.2" rx="2.3" ry="1.5" transform="rotate(30 784.8 68.2)"/>
<path class="q" d="M780.7 64 784 67.4M786.5 63.2 786.8 66.9"/>
<ellipse class="k" cx="799.7" cy="75.7" rx="2.3" ry="1.5" transform="rotate(30 799.7 75.7)"/>
<path class="q" d="M795.6 71.5 798.9 74.8M801.4 70.7 801.7 74.3"/>
<ellipse class="k" cx="816.3" cy="84.8" rx="2.3" ry="1.5" transform="rotate(30 816.3 84.8)"/>
<path class="q" d="M812.2 80.6 815.5 84M818 79.8 818.3 83.5"/>
<ellipse class="k" cx="834.6" cy="94.7" rx="2.3" ry="1.5" transform="rotate(30 834.6 94.7)"/>
<path class="q" d="M830.5 90.6 833.8 93.9M836.3 89.8 836.6 93.4"/>
<path class="q" d="M844.6 59.1 849.6 56.6 872.8 71.5 884.4 73.2 888.6 77.3 887.7 86.4 906 95.6M872.8 74 884.4 75.7 887.7 86.4M869.5 79.8 872.8 83.1 879.4 79.8 884.4 75.7M866.2 88.9 867.8 113 874.5 116.3M872.8 83.1 873.6 96.4 884.4 104.7 892.7 99.7 905 103M873.6 96.4 861.2 104.7M851.2 61.5 871.1 73.2M879.4 84.8 881.1 96.4 889.4 93.1"/>
<path class="q" d="M749.9 96.4 754.9 86.4 764.1 83.1 770.7 85.6 768.2 99.7 764.9 108 756.6 106.4 750.8 101.4 749.9 96.4M754.9 86.4 758.2 89.8 756.6 106.4M758.2 89.8 768.2 87.3M759.9 93.1 765.7 91.4M759.1 98.1 764.9 96.4M764.1 83.1 778.2 77.3M753.3 93.1 755.8 103"/>
<path class="q" d="M776.5 78.5 771.9 90.1 769.5 103.4 769.9 111.7M778.5 79.1 773.8 90.8 771.5 103.4 771.9 109.2"/>
<path class="q" d="M782.8 82 778.2 93.6 775.8 106.9 776.2 115.2M784.8 82.6 780.2 94.2 777.8 106.9 778.2 112.7"/>
<path class="q" d="M789.1 85.4 784.5 97.1 782.1 110.4 782.5 118.7M791.1 86.1 786.5 97.7 784.1 110.4 784.5 116.2"/>
<path class="q" d="M795.4 88.9 790.8 100.6 788.5 113.8 788.8 122.1M797.4 89.6 792.8 101.2 790.4 113.8 790.8 119.6"/>
<path class="q" d="M801.7 92.4 797.1 104 794.8 117.3 795.1 125.6M803.7 93.1 799.1 104.7 796.8 117.3 797.1 123.1"/>
<path class="q" d="M808 95.9 803.4 107.5 801.1 120.8 801.4 129.1M810 96.6 805.4 108.2 803.1 120.8 803.4 126.6"/>
<path class="q" d="M814.4 99.4 809.7 111 807.4 124.3 807.7 132.6M816.3 100.1 811.7 111.7 809.4 124.3 809.7 130.1"/>
<path class="q" d="M820.7 102.9 816 114.5 813.7 127.8 814 136.1M822.7 103.5 818 115.2 815.7 127.8 816 133.6"/>
<path class="q" d="M827 106.4 822.3 118 820 131.3 820.3 139.6M829 107 824.3 118.7 822 131.3 822.3 137.1"/>
<path class="q" d="M833.3 109.9 828.6 121.5 826.3 134.8 826.6 143.1M835.3 110.5 830.6 122.1 828.3 134.8 828.6 140.6"/>
<path class="q" d="M764.9 108 771.5 123 784.8 132.9 804.7 142.9 824.6 149.5M770.7 85.6 832.9 119.6M769 96.4 789.8 108 804.7 101.4 813 108 821.3 123M789.8 108 791.4 123 804.7 129.6M768.2 103 784.8 113 786.5 126.3M813 108 828 116.3 831.3 129.6 841.2 132.9M828 116.3 841.2 113 851.2 116.3M834.6 123 851.2 129.6 861.2 124.6"/>
<path class="q" d="M763.2 129.6 768.2 124.6 778.2 127.9 784.8 136.2 778.2 146.2M759.9 144.6 768.2 136.2 776.5 139.6M771.5 123 774.8 129.6"/>
<path class="q" d="M857.9 99.7 861.2 91.4 863.7 116.3 857.9 119.6M847.9 101.4 854.5 96.4 859.5 103 856.2 109.7 849.6 108 847.9 101.4M844.6 109.7 851.2 113 849.6 119.6 842.9 116.3 844.6 109.7M851.2 123 861.2 127.9 867.8 123"/>
<ellipse class="p" cx="857.0" cy="114.7" rx="3.0" ry="3.0"/>
<ellipse class="q" cx="857.0" cy="114.7" rx="1.3" ry="1.3"/>
<ellipse class="k" cx="851.2" cy="108.0" rx="1.7" ry="1.7"/>
<ellipse class="k" cx="847.1" cy="105.5" rx="1.3" ry="1.3"/>
<ellipse class="k" cx="858.7" cy="93.1" rx="1.2" ry="1.2"/>
<ellipse class="k" cx="849.6" cy="129.6" rx="1.7" ry="1.7"/>
<ellipse class="k" cx="841.2" cy="127.9" rx="1.3" ry="1.3"/>
<path class="w" d="M759.9 143.2 762.4 138.2 770.7 137.4 773.2 143.2 776.5 140.7 784.8 138.2 789.8 141.5 804.7 149.8 834.6 143.2 871.1 153.2 884.4 176.4 907.7 179.7 907.7 199.6 889.4 189.7 884.4 191.3 871.1 181.4 857.9 174.7 841.2 176.4 824.6 181.4 821.3 186.4 809.7 191.3 801.4 187.2 800.6 179.7 791.4 176.4 773.2 168.1 761.6 163.1 759.9 159.8 762.4 158.1 759.9 148.2Z"/>
<path class="q" d="M759.1 146.1 760.8 139.1 763.8 135.5 770.2 136.7 772.5 142.6 772 149.6 768.4 154.3 762 152.5 759.1 146.1M770.2 136.7 768.4 143.8 772 149.6M760.8 139.1 767.9 141.4 768.4 143.8M768.4 132 775.5 134.4 783.7 137.9 785.4 142.6 779 145.5 773.1 143.8 772.5 142.6M775.5 134.4 776.1 139.1 779 145.5M776.1 139.1 783.7 137.9M759.6 160.2 762.6 157.8 770.2 162.5 772 165.4 790.7 176.6 791.9 179.5 789.5 178.9 772 168.4 769.6 166.6 760.2 161.9 759.6 160.2M762.6 157.8 763.2 160.2 770.2 164.3 772 165.4M775.5 163.7 783.7 152M779 165.4 787.2 153.7M782.5 167.2 790.7 156.1M786 168.9 794.2 158.4M773.1 154.3 794.2 164.8M772 156.6 774.3 155.5 791.9 165.4M768.4 154.3 773.1 154.3M785.4 142.6 795.4 146.1 802.4 147.3 803.6 150.8 815.3 159 820 163.7M796.6 161.3 805.9 166 810.6 164.8 815.3 166M794.2 164.8 796.6 161.3 797.7 155.5 803.6 150.8M796.6 161.3 795.4 174.2 800.1 180.1M805.9 166 804.8 176.6 808.3 180.1M800.1 180.1 801.2 185.9 811.8 191.2 822.9 185.9 822.3 181.2 820 178.9M801.2 185.9 802.4 182.4 811.8 187.1 811.8 191.2M811.8 187.1 822.3 182.4M800.1 180.1 802.4 182.4M815.3 147.3 825.9 155.5 829.4 163.7 827 174.2 820 177.7M820 163.7 827 174.2 834.1 171.9 841.1 163.7 850.5 161.3 857.5 166 862.2 176.6M822.3 163.7 828.2 171.9 834.1 170.1 840.5 161.9 850.5 159.6M814.1 143.8 820 142.6 824.7 148.4 821.2 153.1 815.3 152 814.1 143.8M820 142.6 820.6 147.3 824.7 148.4M816.5 154.3 822.3 160.2 821.2 164.8M813 160.2 817.7 162.5"/>
<ellipse class="p" cx="816.5" cy="171.9" rx="5.6" ry="6.1"/>
<ellipse class="q" cx="816.5" cy="171.9" rx="3.5" ry="4.0"/>
<ellipse class="k" cx="816.5" cy="171.9" rx="1.4" ry="1.4"/>
<ellipse class="k" cx="790.1" cy="154.9" rx="1.6" ry="2.1"/>
<ellipse class="k" cx="820.0" cy="151.4" rx="1.4" ry="1.4"/>
<ellipse class="k" cx="818.2" cy="160.2" rx="1.4" ry="1.4"/>
<ellipse class="k" cx="821.8" cy="156.1" rx="1.1" ry="1.1"/>
<ellipse class="k" cx="848.1" cy="164.8" rx="1.2" ry="1.2"/>
<ellipse class="q" cx="791.9" cy="150.2" rx="0.9" ry="0.9"/>
<ellipse class="p" cx="737.5" cy="185.5" rx="2.8" ry="3.7" transform="rotate(-20 737.5 185.5)"/>
<ellipse class="q" cx="737.0" cy="185.5" rx="1.5" ry="2.3" transform="rotate(-20 737.0 185.5)"/>
<path class="p" d="M740 181.7 749.6 177.1 750.9 179.7 741.6 184.7Z"/>
<path class="q" d="M742 181.1 743.3 183.9M744 180.1 745.3 182.9M746 179.1 747.3 181.9M747.9 178.1 749.3 180.9"/>
<path class="w" d="M850 63.3 871.6 73.3 885.7 74.1 889 77.4 888.2 87.4 893.2 89.1 897.3 93.2 899.8 99 904.8 94 911.4 95.7 949.6 126.4 962.9 141.3 967.9 149.6 966.2 157.9 964.6 179.5 850 179.5Z"/>
<path class="q" d="M850 63.3 871.6 73.3 885.7 74.1 889 77.4 888.2 87.4 893.2 89.1 897.3 93.2 899.8 99 904.8 94M871.6 73.3 873.2 78.3 886.5 77.4M873.2 78.3 871.6 101.5 879.9 104.8 891.5 99.8 899.8 99M871.6 84.9 883.2 91.5 889.8 88.2M879.9 104.8 879.1 109.8 888.2 113.1M850 70 868.3 79.1 867.4 99.8M850 76.6 866.6 84.9M855 66.6 869.9 74.1"/>
<path class="q" d="M876.6 129.7 887.4 113.1 904.8 93.2 911.4 95.7 949.6 126.4 962.9 141.3 967.9 149.6 966.2 157.9 956.2 161.3 947.9 166.2 943 169.6 923 174.6 871.6 146.3 871.6 141.3 876.6 129.7M887.4 113.1 936.3 138 933 156.3M904.8 93.2 949.6 126.4M891.5 109.8 939.6 134.7M898.1 101.5 944.6 129.7M894.8 105.7 942.1 132.2M887.4 113.1 904.8 93.2M898.1 118.9 914.7 99M908.1 123.9 923 104.8M918.1 128.9 931.3 109.8M927.2 133.9 939.6 115.6M936.3 138 947.9 121.4M889 114 906.4 94M899.8 119.8 916.4 99.8M909.8 124.7 924.7 105.7M919.7 129.7 933 110.6M928.9 134.7 941.3 116.4M876.6 129.7 926.4 157.9M879.9 123.9 929.7 151.3M883.2 118.1 933 144.7M878.2 126.7 928 154.6M883.2 118.1 876.6 129.7M893.2 123.9 887.4 135.5M903.1 128.9 897.3 141.3M913.1 134.7 907.3 146.3M923 139.7 917.2 152.1M933 144.7 926.4 157.9M894.8 124.7 889 136.4M904.8 129.7 899 142.2M914.7 135.5 908.9 147.2M924.7 140.5 918.9 153"/>
<ellipse class="p" cx="947.9" cy="146.3" rx="8.3" ry="9.1"/>
<ellipse class="q" cx="947.9" cy="146.3" rx="5.0" ry="5.6"/>
<ellipse class="k" cx="947.9" cy="146.3" rx="1.7" ry="1.7"/>
<path class="q" d="M947.9 137.2 947.9 155.5M940.5 142.2 955.4 150.5M940.5 150.5 955.4 142.2M956.2 138 966.2 149.6M949.6 126.4 956.2 131.4 964.6 146.3M943 138 952.9 154.6M952.9 138 943 154.6"/>
<path class="g" d="M870.8 143 923.9 171.2 923 178.2 870.8 149.6Z"/>
<path class="t" d="M870.8 144.7 923.9 172.9M870.8 146.3 923.5 174.6M870.8 148 923.4 176.2M870.8 143.8 923.9 172.1M870.8 145.5 923.7 173.7M870.8 147.2 923.4 175.4"/>
<path class="q" d="M962.9 150.5 967.9 149.6 966.2 157.9 949.6 166.2M964.6 153 964.6 159.6M943 169.6 949.6 166.2 949.6 176.2M956.2 161.3 957.9 176.2M923.9 171.2 943 162.9 956.2 161.3"/>
<path class="q" d="M850 89.9 860 88.2 863.3 103.2 860 118.1 850 114.8M853.3 93.2 858.3 106.5 855 114.8M863.3 103.2 871.6 101.5M860 118.1 869.9 123.1 876.6 129.7M864.9 131.4 873.2 133M860 126.4 866.6 138 870.8 143"/>
<ellipse class="p" cx="855.0" cy="101.5" rx="2.3" ry="2.3"/>
<ellipse class="k" cx="855.0" cy="101.5" rx="1.0" ry="1.0"/>
<ellipse class="k" cx="868.3" cy="133.0" rx="2.0" ry="2.0"/>
<ellipse class="k" cx="860.0" cy="93.2" rx="1.3" ry="1.3"/>
<ellipse class="p" cx="873.2" cy="131.4" rx="1.3" ry="1.3"/>
<path class="p" d="M913.9 84.9 921.4 80.8 923 77.4 927.2 76.6 928 80.8 924.7 84.1 915.6 87.4Z"/>
<path class="q" d="M921.4 80.8 924.7 84.1M923 77.4 925.5 80.8 928 80.8M915.6 84.6 916.9 86.9M917.6 83.6 918.9 85.9M919.6 82.6 920.9 84.9"/>
<ellipse class="k" cx="925.0" cy="79.1" rx="1.3" ry="1.3"/>
<path d="M945.1 64H963.3V73.7L957.4 72.3L950 76L942.2 72.3L949.8 68.4Z" fill="#111"/>
<path class="w" d="M850 136.6 870.8 143.3 923.9 171.5 949.6 163.2 966.2 151.6 964.6 163.2 961.2 184.8 964.6 188.1 962.9 193.9 957.9 194.7 951.3 194.7 928 199.7 904.8 198.1 889.8 188.1 888.2 166.5 850 146.6Z"/>
<path class="g" d="M870.8 143.3 923.9 171.5 923 178.5 870.8 149.9Z"/>
<path class="t" d="M870.8 144.9 923.9 173.2M870.8 146.6 923.5 174.8M870.8 148.3 923.4 176.5M870.8 144.1 923.9 172.3M870.8 145.8 923.7 174M870.8 147.4 923.4 175.7"/>
<path class="q" d="M888.2 166.5 889.8 188.1 904.8 198.1 928 199.7 951.3 194.7 959.6 184.8 961.2 163.2M889.8 176.5 904.8 184.8 928 186.4 949.6 181.5 959.6 173.2M923 178.5 928 179.8 949.6 171.5 964.6 163.2M956.2 191.4 959.6 184.8 964.6 188.1 962.9 193.9 957.9 194.7 956.2 191.4M928 186.4 928 199.7M923.9 171.5 928 173.2 949.6 164.9M949.6 164.9 951.3 194.7"/>
<path class="q" d="M892.3 170.8 892.3 184.9M894 171.4 894 185.4"/>
<path class="q" d="M898.3 173.3 898.3 187.4M900 173.9 900 187.9"/>
<path class="q" d="M904.3 175.8 904.3 189.9M905.9 176.4 905.9 190.4"/>
<path class="q" d="M910.3 178.3 910.3 192.4M911.9 179 911.9 192.9"/>
<path class="q" d="M916.2 180.8 916.2 194.9M917.9 181.5 917.9 195.4"/>
<path class="q" d="M922.2 183.3 922.2 197.4M923.9 184 923.9 197.9"/>
<path class="q" d="M933 178.2 933 196.3M934.7 177.7 934.7 195.6"/>
<path class="q" d="M939 176.3 939 193.8M940.6 175.8 940.6 193.1"/>
<path class="q" d="M945 174.4 945 191.3M946.6 173.9 946.6 190.6"/>
<path class="q" d="M950.9 172.5 950.9 188.8M952.6 172 952.6 188.1"/>
<path class="q" d="M956.9 170.6 956.9 186.3M958.6 170.1 958.6 185.6"/>
<path class="q" d="M850 136.6 860 140 870.8 149.9M850 146.6 860 153.2 863.3 163.2 878.2 171.5 888.2 184.8M860 153.2 871.6 156.6 888.2 166.5M863.3 163.2 860 173.2 879.9 183.1 888.2 179.8M878.2 171.5 879.9 183.1"/>
<path class="p" d="M977.5 175.7 979.5 172.8 983.6 173.5 985.8 177 983.6 180.6 979.5 180.1Z"/>
<ellipse class="g" cx="981.5" cy="176.8" rx="2.0" ry="2.0"/>
<ellipse class="q" cx="981.5" cy="176.8" rx="1.0" ry="1.0"/>
<path d="M913.9 199.7 913.1 208 908.1 214.7 908.1 221.3 913.1 223.8 915.6 229.6 913.9 246.2 914.7 256.2" fill="none" stroke="#3a3a3a" stroke-width="4" stroke-linejoin="round"/>
<path d="M913.9 199.7 913.1 208 908.1 214.7 908.1 221.3 913.1 223.8 915.6 229.6 913.9 246.2 914.7 256.2" fill="none" stroke="#fff" stroke-width="2.2" stroke-linejoin="round"/>
<ellipse class="q" cx="910.6" cy="220.5" rx="2.7" ry="2.3"/>
<path class="q" d="M830 109 856 122M828 116 854 130M830 109 828 116M835 111.5 833 118.5M840 114 838 121M845 116.5 843 123.5M850 119 848 126M856 122 854 130M826 120 850 133M824 126 846 138M833 124 831 130M839 127 837 133M845 130 843 136"/>
<ellipse class="p" cx="856.5" cy="114.0" rx="3.2" ry="3.2"/>
<ellipse class="q" cx="856.5" cy="114.0" rx="1.5" ry="1.5"/>
<ellipse class="k" cx="848.0" cy="104.0" rx="2.2" ry="2.2"/>
<ellipse class="k" cx="851.5" cy="108.0" rx="1.8" ry="1.8"/>
<ellipse class="k" cx="845.5" cy="108.5" rx="1.6" ry="1.6"/>
<ellipse class="k" cx="838.0" cy="131.0" rx="1.6" ry="1.6"/>
<ellipse class="k" cx="844.0" cy="134.5" rx="1.6" ry="1.6"/>
<ellipse class="p" cx="859.0" cy="135.0" rx="2.6" ry="2.6"/>
<ellipse class="p" cx="870.0" cy="131.0" rx="2.4" ry="2.4"/>
<path class="q" d="M846 100 850 112M852 99 858 122M862 96 866 118M860 118 872 112"/>
<path class="p" d="M832.9 134.9 841.2 132.4 871.1 153.2 874.5 159.8 884.4 176.4 889.4 189.7 884.4 191.3 871.1 181.4 857.9 174.7 851.2 161.5 834.6 143.2 832.1 138.2Z"/>
<path class="q" d="M841.2 132.4 844.6 136.6 872.8 156.5 876.1 163.1M824.6 126.6 834.6 134.9M814.7 143.2 818 139.9 828 143.2 834.6 151.5 841.2 159.8 851.2 163.1M818 151.5 824.6 149.8 828 156.5 821.3 159.8 818 151.5M819.7 154.8 818 164.8 823 168.1M831.3 171.4 841.2 164.8 854.5 166.4 861.2 173.1M834.6 173.9 842.9 168.1 854.5 169.8M791.4 138.2 804.7 143.2 813 141.5 821.3 131.6M804.7 143.2 806.4 149.8M828 159.8 834.6 164.8 841.2 163.1M857.9 174.7 859.5 168.1 867.8 173.1M871.1 181.4 872.8 176.4 881.1 179.7M861.2 173.1 864.5 181.4 877.8 188 884.4 191.3"/>
<ellipse class="k" cx="821.3" cy="153.5" rx="2.0" ry="2.0"/>
<ellipse class="g" cx="849.6" cy="164.0" rx="1.7" ry="1.7"/>
<ellipse class="k" cx="825.5" cy="145.7" rx="1.3" ry="1.3"/>
<ellipse class="k" cx="842.9" cy="158.1" rx="1.2" ry="1.2"/>
<ellipse class="k" cx="817.2" cy="159.8" rx="1.2" ry="1.2"/>
<path class="q" d="M871.1 142.4 872.8 145.7M889.4 164.8 891.1 189.7 905 196.3"/>
<path class="p" d="M210 400 214.3 397.4 224 398.5 227.2 402.2 226.1 407.5 235.8 412.9 247.5 414 254 418.2 255.1 423.6 250.8 426.2 255.1 431.1 254 436.5 247.5 439.7 244.3 440.8 243.3 421.5 220.8 408.6Z"/>
<path class="q" d="M214.3 397.4 215.4 402.2 224 403.2 224 398.5M220.8 408.6 224 403.2M235.8 412.9 237.9 418.2 250.8 420.4 254 418.2M237.9 418.2 236.8 423.6M244.3 427.9 250.8 426.2M244.3 434.3 250.8 432.2 255.1 431.1M247.5 439.7 246.5 434.3"/>
<ellipse class="q" cx="251.8" cy="422.5" rx="3.0" ry="3.4"/>
<ellipse class="q" cx="251.2" cy="434.3" rx="2.8" ry="3.2"/>
<ellipse class="q" cx="218.2" cy="400.0" rx="2.1" ry="2.1"/>
<path class="p" d="M167.6 393.6 170.4 385 176.8 380.7 243.3 421.5 244.3 494.3 234 500.8 232.5 504 168.2 464.3Z"/>
<path class="q" d="M167.6 393.6 232.5 432.2 234 500.8M232.5 432.2 242.2 429 243.3 421.5M170.4 385 235.8 424.7M168.2 398.9 232.5 437.5M168.2 460 233.6 498.6M168.2 462.2 233.2 501.2M234 434.3 235.3 498.6M242.2 429 243 494.3M171.4 383.3 237.9 423.6"/>
<path class="u" d="M168.9 394.2 169.1 398.3"/>
<path class="u" d="M170.8 395.4 171 399.5"/>
<path class="u" d="M172.8 396.5 173 400.6"/>
<path class="u" d="M174.7 397.7 174.9 401.8"/>
<path class="u" d="M176.7 398.9 176.9 402.9"/>
<path class="u" d="M178.6 400 178.8 404.1"/>
<path class="u" d="M180.6 401.2 180.8 405.2"/>
<path class="u" d="M182.5 402.3 182.7 406.4"/>
<path class="u" d="M184.5 403.5 184.7 407.6"/>
<path class="u" d="M186.4 404.6 186.6 408.7"/>
<path class="u" d="M188.4 405.8 188.6 409.9"/>
<path class="u" d="M190.3 407 190.5 411"/>
<path class="u" d="M192.3 408.1 192.5 412.2"/>
<path class="u" d="M194.2 409.3 194.4 413.4"/>
<path class="u" d="M196.2 410.4 196.4 414.5"/>
<path class="u" d="M198.1 411.6 198.3 415.7"/>
<path class="u" d="M200.1 412.8 200.3 416.8"/>
<path class="u" d="M202 413.9 202.2 418"/>
<path class="u" d="M204 415.1 204.2 419.1"/>
<path class="u" d="M205.9 416.2 206.2 420.3"/>
<path class="u" d="M207.9 417.4 208.1 421.5"/>
<path class="u" d="M209.8 418.5 210.1 422.6"/>
<path class="u" d="M211.8 419.7 212 423.8"/>
<path class="u" d="M213.7 420.9 214 424.9"/>
<path class="u" d="M215.7 422 215.9 426.1"/>
<path class="u" d="M217.6 423.2 217.9 427.2"/>
<path class="u" d="M219.6 424.3 219.8 428.4"/>
<path class="u" d="M221.5 425.5 221.8 429.6"/>
<path class="u" d="M223.5 426.6 223.7 430.7"/>
<path class="u" d="M225.4 427.8 225.7 431.9"/>
<path class="u" d="M227.4 429 227.6 433"/>
<path class="u" d="M229.3 430.1 229.6 434.2"/>
<path class="u" d="M231.3 431.3 231.5 435.3"/>
<path class="u" d="M171 400 171.7 462.2"/>
<path class="u" d="M174.3 402 174.9 464.1"/>
<path class="u" d="M177.6 403.9 178.2 466.1"/>
<path class="u" d="M180.9 405.9 181.5 468"/>
<path class="u" d="M184.1 407.8 184.8 470"/>
<path class="u" d="M187.4 409.8 188.1 471.9"/>
<path class="u" d="M190.7 411.7 191.3 473.9"/>
<path class="u" d="M194 413.7 194.6 475.8"/>
<path class="u" d="M197.3 415.6 197.9 477.8"/>
<path class="u" d="M200.5 417.6 201.2 479.7"/>
<path class="u" d="M203.8 419.5 204.5 481.7"/>
<path class="u" d="M207.1 421.5 207.7 483.7"/>
<path class="u" d="M210.4 423.4 211 485.6"/>
<path class="u" d="M213.7 425.4 214.3 487.6"/>
<path class="u" d="M216.9 427.3 217.6 489.5"/>
<path class="u" d="M220.2 429.3 220.9 491.5"/>
<path class="u" d="M223.5 431.2 224.1 493.4"/>
<path class="u" d="M226.8 433.2 227.4 495.4"/>
<path class="u" d="M230.1 435.1 230.7 497.3"/>
<path class="q" d="M182.2 389.3 184.3 388.2 187.5 390.4M196.1 397.9 198.2 396.8 201.5 398.9M210 406 212.2 404.9 215.4 407.1M224 414 226.1 412.9 229.3 415"/>
<g transform="rotate(-9 245.5 394.9)"><rect class="p" x="238.3" y="380.4" width="14.4" height="29" rx="7" ry="8.5"/><rect class="q" x="242.3" y="385.6" width="6.4" height="18.6" rx="3.2" ry="4.5"/><rect class="q" x="240.6" y="383.4" width="10.6" height="24" rx="5.2" ry="6.5" style="stroke-width:.6"/></g>
<path class="p" d="M268.6 373.9 271.1 370.4 276.5 369.6 279.7 372.6 280.1 386.1 277.6 389.7 272.2 390.8 269 387.6Z"/>
<path class="q" d="M274.3 373.2 274.6 386.7M272.6 372.6 272.8 387.6 274.3 388.9M272.6 372.6 274.3 371.7"/>
<path class="p" d="M90.8 475.8 102.4 468.3 104.9 469.1 168 506.5 170.5 509 168 513.1 154.7 518.9 150.5 517.3 128.1 505.6 124.8 507.3 119.8 504.8 91.6 482.4Z"/>
<path class="q" d="M93.3 477.4 102.4 471.6 165.5 509M95.8 479.9 103.2 475.8 158 511.4M103.2 475.8 113.2 489.9 95.8 479.9M113.2 489.9 151.4 513.1M154.7 518.9 154.7 513.1 168 506.5M158 511.4 158.8 516.4M161.3 509.8 162.2 514.8M90.8 475.8 93.3 477.4M150.5 517.3 151.4 513.1 154.7 513.1M102.4 468.3 102.4 471.6"/>
<path class="p" d="M179.5 506.4 187.7 504.1 201.8 513.4 210 507.6 215.9 509.9 221.7 514.6 224.1 513.4 285 548.6 286.2 583.8 280.3 600.2 266.2 602.5 259.2 607.2 233.4 602.5 228.8 607.2 224.1 618.9 228.8 622.4 226.4 627.1 219.4 627.1 198.3 640 194.8 643.5 135 609.5 133.8 606 145.5 593.1 158.4 587.3 167.8 562.7 172.5 555.6 171.3 548.6 174.8 536.9 172.5 527.5 176 522.8Z"/>
<path class="q" d="M187.7 504.1 188.9 548.6 181.9 553.3 172.5 555.6M188.9 548.6 210 560.3M201.8 513.4 203 525.2 210 527.5 214.7 520.5 215.9 509.9M210 527.5 210 560.3M221.7 514.6 224.1 520.5 281.5 553.3 285 548.6M224.1 520.5 224.1 536.9 261.6 550.9 261.6 572M212.3 534.5 261.6 560.3M212.3 543.9 261.6 569.7M212.3 553.3 247.5 572M212.3 534.5 212.3 560.3M181.9 553.3 238.1 583.8M186.6 558 228.8 581.4M172.5 576.7 224.1 602.5M181.9 553.3 181.9 560.3 172.5 562.7M145.5 593.1 158.4 600.2 191.2 617.7 203 625.9 198.3 640M135 609.5 139.7 606 158.4 616.6 195.9 637.7M158.4 587.3 170.2 572 228.8 593.1 224.1 618.9M158.4 600.2 170.2 572M163.1 607.2 172.5 609.5 191.2 617.7M247.5 569.7 249.8 579.1 259.2 581.4 266.2 602.5M259.2 581.4 261.6 572 280.3 567.3M238.1 583.8 247.5 569.7M233.4 602.5 238.1 583.8M278 567.3 280.3 600.2M266.2 576.7 278 568.5M191.2 617.7 195.9 623.6 210 621.2 219.4 627.1M167.8 562.7 177.2 560.3 186.6 562.7M228.8 593.1 233.4 586.1 242.8 588.4 245.2 572 247.5 569.7M179.5 506.4 181.9 511.1 200.6 520.5M281.5 553.3 282.7 583.8M224.1 618.9 203 625.9"/>
<ellipse class="q" cx="181.2" cy="506.9" rx="1.2" ry="1.2"/>
<ellipse class="q" cx="172.0" cy="527.5" rx="1.2" ry="1.2"/>
<ellipse class="q" cx="224.1" cy="514.1" rx="1.2" ry="1.2"/>
<ellipse class="q" cx="266.2" cy="538.0" rx="1.2" ry="1.2"/>
<ellipse class="q" cx="283.8" cy="549.1" rx="1.2" ry="1.2"/>
<ellipse class="q" cx="279.6" cy="599.0" rx="1.2" ry="1.2"/>
<ellipse class="q" cx="145.5" cy="592.0" rx="1.2" ry="1.2"/>
<ellipse class="q" cx="135.0" cy="606.5" rx="1.2" ry="1.2"/>
<ellipse class="q" cx="242.8" cy="525.2" rx="1.2" ry="1.2"/>
<ellipse class="q" cx="200.6" cy="636.5" rx="1.2" ry="1.2"/>
<ellipse class="q" cx="156.1" cy="617.7" rx="1.2" ry="1.2"/>
<path class="p" d="M219.4 621.2 227.6 620.1 228.8 624.8 224.1 628.3 219.4 627.1Z"/>
<ellipse class="p" cx="197.5" cy="664.0" rx="3.0" ry="3.0"/>
<ellipse class="k" cx="197.5" cy="664.0" rx="1.3" ry="1.3"/>
<path class="q" d="M195 661 200 661"/>
<path d="M448.8 526.7 457.7 532.9 464.6 542.6 470.2 556.5" fill="none" stroke="#3a3a3a" stroke-width="5.2" stroke-linejoin="round" stroke-linecap="butt"/>
<path d="M448.8 526.7 457.7 532.9 464.6 542.6 470.2 556.5" fill="none" stroke="#fff" stroke-width="2.8" stroke-linejoin="round" stroke-linecap="butt"/>
<path d="M419.5 550.4 431.2 559.3 441 562.1 470.2 557.9 498.1 555.1 509.2 559.3 528.7 577.4 537.1 591.4 537.1 601.1 531.5 612.3 527.3 622" fill="none" stroke="#3a3a3a" stroke-width="5.2" stroke-linejoin="round" stroke-linecap="butt"/>
<path d="M419.5 550.4 431.2 559.3 441 562.1 470.2 557.9 498.1 555.1 509.2 559.3 528.7 577.4 537.1 591.4 537.1 601.1 531.5 612.3 527.3 622" fill="none" stroke="#fff" stroke-width="2.8" stroke-linejoin="round" stroke-linecap="butt"/>
<path d="M532.9 624.8 535.7 635.9 532.9 652.7 534.3 672.2 535.7 683.3" fill="none" stroke="#3a3a3a" stroke-width="4.2" stroke-linejoin="round" stroke-linecap="butt"/>
<path d="M532.9 624.8 535.7 635.9 532.9 652.7 534.3 672.2 535.7 683.3" fill="none" stroke="#fff" stroke-width="2.4" stroke-linejoin="round" stroke-linecap="butt"/>
<path d="M446 525.1 452.1 529" fill="none" stroke="#3a3a3a" stroke-width="6" stroke-linejoin="round" stroke-linecap="butt"/>
<path d="M446 525.1 452.1 529" fill="none" stroke="#fff" stroke-width="4" stroke-linejoin="round" stroke-linecap="butt"/>
<path d="M417.3 549 426.2 555.1" fill="none" stroke="#3a3a3a" stroke-width="6" stroke-linejoin="round" stroke-linecap="butt"/>
<path d="M417.3 549 426.2 555.1" fill="none" stroke="#fff" stroke-width="4" stroke-linejoin="round" stroke-linecap="butt"/>
<ellipse class="q" cx="528.7" cy="624.8" rx="5.0" ry="4.5"/>
<ellipse class="q" cx="528.7" cy="624.8" rx="3.1" ry="2.5"/>
<path class="q" d="M468 554.6 472.4 554 473 560.2 468.5 560.7 468 554.6M475.8 555.1 476.3 559.6"/>
<ellipse class="k" cx="470.2" cy="551.8" rx="0.8" ry="0.8"/>
<ellipse class="k" cx="478.6" cy="556.8" rx="0.7" ry="0.7"/>
<path class="p" d="M532.3 677.7 537.6 677.2 538.8 685.5 533.7 686.6Z"/>
<path class="w" d="M758.9 356.6 763 353.3 796.2 371.5 807.9 373.2 817.8 379 818.7 386.5 827.8 396.4 837.8 406.4 838.6 409.7 841.1 419.7 839.4 423 827.8 416.4 821.2 419.7 822.8 446.2 806.2 459.5 708.3 459.5 709.9 442.9 705.8 423 714.9 418 725.7 403.1 717.4 396.4 716.6 389.8 720.7 388.1 739.8 397.3 739.8 378.2 739 373.2 743.1 370.7 754.7 377.4 758.9 379.8Z"/>
<path class="w" d="M716 392 720 388 761 410 802 400 802 454 796 454 786 464 778 488 774 496 770 497 756 508 750 514 730 516 710 508 690 504 696 492 705 480 716 469 710 468 707 464 709 452 706 446 708 440 707 424 709 420 720 414 726 400 722 399 717 398Z"/>
<path class="w" d="M706 476 700 480 694 488 689 500 688 506 692 509 702 515 710 517 718 512 725 529 734 534 747 526 744 514 748 513 751 514 756 510 760 502 770 497 774 494 780 483 788 464 784 463 740 460 708 473Z"/>
<path class="q" d="M758.9 381.5 758.9 356.6 763 353.3 796.2 371.5 796.2 375.7 782.1 388.1M760.6 358.3 794.6 375.7M784.6 362.4 787.1 360.8 797.9 367.4 797.1 371.5M796.2 375.7 807.9 373.2 817.8 379 818.7 386.5 807.9 393.1 806.2 398.1M791.3 386.5 806.2 375.7M792.9 389 808.7 377.4M792.9 389.8 817.8 380.7M793.8 391.5 818.2 382.8M739 373.2 743.1 370.7 754.7 377.4 753.9 384.8 739.8 378.2 739 373.2M743.1 370.7 743.5 375.7 753.9 381.5M752.3 391.5 756.4 389.8 771.3 396.4 769.7 400.6 752.3 394.8 752.3 391.5M756.4 389.8 756.7 393.5 769.7 398.4M806.2 398.1 818.7 386.5 827.8 396.4 837.8 406.4 838.6 409.7 841.1 419.7 839.4 423 827.8 416.4 821.2 419.7 822.8 446.2 816.2 451.2M827.8 396.4 825.3 401.4 836.1 408.1M827.8 416.4 836.1 408.1M806.2 398.1 804.6 414.7M804.6 414.7 817.8 419.7 804.6 418M804.6 423 817.8 428 804.6 426.3M805.4 431.3 818.7 436.3 805.4 434.6M806.2 439.6 821.2 446.2 806.2 442.9M817.8 419.7 818.7 446.2"/>
<path class="q" d="M716 392 720 388 761 410 786 391M716 392 717 398 722 399 761 414 788 393M761 410 761 414M722 399 726 400 720 414 709 420 707 424 708 440 706 446 709 452 707 464 710 468 716 469 705 480 696 492 690 504M726 400 750 412 759 417 776 426M709 420 750 440M708 440 744 458M707 424 710 423 712 440 710 446M743 448 750 442 759 445 760 456 750 462 743 458 743 448M750 442 750.4 451 760 456M750.4 451 743 458M790 398 794 446M792 397 796 445M802 400 818 392M799 416 818 422 799 419M800 426 818 432 800 429M801 436 818 442 801 439M796 454 786 464 778 488 774 496 770 497 756 508 750 514M799 455 789 465 781 489 776 498M776 426 778 440 772 446 760 456M759 417 758 430 750 442M776 426 790 432 794 446M782 400 780 420 790 432M784 410 778 413 779 422"/>
<path class="q" d="M732 413 725 425 721.4 437 721 447 721.4 456M734.4 414 727.4 426 723.8 437.4 723.4 447 723.6 454M721.4 456 722.6 460 723.6 454"/>
<path class="q" d="M741 416.4 734 428.4 730.4 440.4 730 450.4 730.4 459.4M743.4 417.4 736.4 429.4 732.8 440.8 732.4 450.4 732.6 457.4M730.4 459.4 731.6 463.4 732.6 457.4"/>
<path class="q" d="M750 420 743 432 739.4 444 739 454 739.4 463M752.4 421 745.4 433 741.8 444.4 741.4 454 741.6 461M739.4 463 740.6 467 741.6 461"/>
<path class="q" d="M718.4 421 714 430 713 440 714 451M720.6 422 716.2 430.8 715.2 440 716 449M714 451 715 454.4 716 449M759 424 753 436 750 448M710 423 750 444M710 440 748 459"/>
<ellipse class="p" cx="795.0" cy="448.0" rx="3.0" ry="4.0"/>
<ellipse class="k" cx="795.0" cy="448.0" rx="1.4" ry="2.0"/>
<ellipse class="k" cx="785.0" cy="394.0" rx="1.6" ry="1.6"/>
<ellipse class="k" cx="757.0" cy="434.0" rx="1.2" ry="1.2"/>
<ellipse class="k" cx="721.0" cy="450.0" rx="1.2" ry="1.2"/>
<ellipse class="p" cx="784.0" cy="406.0" rx="2.0" ry="2.8"/>
<path class="q" d="M768.4 463.6 770 455.8"/>
<path class="q" d="M769 463.8 773.2 456.6"/>
<path class="q" d="M769.6 464.2 776 458.2"/>
<path class="q" d="M770 464.8 778.2 460.4"/>
<path class="q" d="M770.4 465.4 779.6 463.2"/>
<path class="q" d="M770.4 466 780 466"/>
<path class="q" d="M770.4 466.6 779.6 468.8"/>
<path class="q" d="M770 467.2 778.2 471.6"/>
<path class="q" d="M769.6 467.8 776 473.8"/>
<path class="q" d="M769 468.2 773.2 475.4"/>
<path class="q" d="M768.4 468.4 770 476.2"/>
<path class="q" d="M767.8 468.4 766.8 476.4"/>
<path class="q" d="M756 460 766 452 778 454 782 464 778 476 770 480M750 462 756 460M760 456 766 452"/>
<ellipse class="g" cx="776.0" cy="471.0" rx="1.8" ry="2.4"/>
<ellipse class="k" cx="778.0" cy="464.0" rx="1.4" ry="1.4"/>
<path class="q" d="M706 476 700 480 694 488 689 500 688 506 692 509 702 515 710 517 713 510 715 490 712 485 706 483M694 488 707 494 702 515M707 494 712 485M697 496 705 499M704 483 710 488 712 485M715 490 734 498 740 493 740 488 720 478 708 473M720 477 739 487 741 492 738 495 719 485 720 477M723 479 722 486.4M727 481 726 488.4M718 512 732 508 744 514 747 526 734 534 725 529 718 512M718 512 731 520 744 514M731 520 734 534M710 517 718 512M784 463 788 464 780 483 774 494 770 497 760 502 756 510 751 514 748 513M781 465 774 483 769 493 759 499 754 508M740 493 748 496 746 504M730 500 732 508M744 470 752 480 750 492 760 502M752 480 764 486 774 494"/>
<ellipse class="p" cx="738.0" cy="507.0" rx="5.6" ry="6.4"/>
<ellipse class="g" cx="738.0" cy="507.0" rx="3.0" ry="3.6"/>
<ellipse class="k" cx="738.0" cy="507.0" rx="1.4" ry="1.4"/>
<ellipse class="p" cx="752.0" cy="500.0" rx="3.4" ry="4.0"/>
<ellipse class="g" cx="752.0" cy="500.0" rx="1.6" ry="2.0"/>
<ellipse class="k" cx="707.0" cy="486.4" rx="1.8" ry="2.4"/>
<ellipse class="q" cx="739.6" cy="490.4" rx="1.6" ry="2.6"/>
<ellipse class="k" cx="759.0" cy="488.0" rx="1.6" ry="1.6"/>
<ellipse class="k" cx="746.0" cy="478.0" rx="1.4" ry="1.4"/>
<ellipse class="q" cx="773.0" cy="495.0" rx="1.2" ry="1.2"/>
<path class="p" d="M680.8 512.5 684.1 510 697.4 519.1 704.9 524.9 703.2 529.9 700.7 529.9 693.2 523.2 689.9 523.2 681.6 515.8Z"/>
<path class="q" d="M684.1 510 684.6 513.6 701.5 528.2M684.6 513.6 681.6 515.8M693.2 523.2 697.4 519.1"/>
<path class="p" d="M730.6 554.8 743 546.5 758 550.6 757.2 554.8 743.9 563.9 730.6 557.3Z"/>
<path class="q" d="M733.9 554 743 549 753.8 551.5 743 558.9 733.9 554M730.6 554.8 743.9 561.4 758 550.6M743.9 561.4 743.9 563.9"/>
<path class="p" d="M772.9 567.2 782.9 548.1 785.4 548.1 785.4 553.1 779.6 566.4 778.7 571.4 774.6 572.2Z"/>
<ellipse class="q" cx="776.2" cy="569.4" rx="1.3" ry="1.3"/>
<ellipse class="q" cx="784.2" cy="549.8" rx="0.7" ry="0.7"/>
<path class="p" d="M794.5 547.3 797 544.8 801.2 547.3 802.8 553.1 804.5 559.8 802 562.3 799.5 556.4 795.3 553.1Z"/>
<path class="q" d="M797 544.8 797.8 550.6 802.8 553.1M797.8 550.6 795.3 553.1"/>
<ellipse class="q" cx="802.8" cy="560.1" rx="0.8" ry="0.8"/>
<path class="p" d="M816.9 571.4 819.4 561.4 826.1 556.4 830.2 558.1 835.2 563.9 836 571.4 829.4 583 824.4 583 817.8 578Z"/>
<path class="q" d="M819.4 561.4 824.4 566.4 835.2 563.9M824.4 566.4 823.6 578 829.4 583M817.8 573 823.6 574.7M826.1 556.4 826.9 562.3"/>
<ellipse class="k" cx="820.2" cy="561.8" rx="1.3" ry="1.3"/>
<ellipse class="k" cx="829.4" cy="558.4" rx="1.2" ry="1.2"/>
<ellipse class="k" cx="818.3" cy="575.5" rx="1.2" ry="1.2"/>
<ellipse class="p" cx="822.7" cy="573.0" rx="1.5" ry="1.5"/>
<ellipse class="k" cx="826.9" cy="581.7" rx="1.0" ry="1.0"/>
<path class="p" d="M826.9 514.9 830.2 510 834.4 510.8 834.4 515.8 830.2 519.1 826.9 519.9Z"/>
<ellipse class="q" cx="831.9" cy="513.6" rx="1.7" ry="2.3"/>
<path class="p" d="M873.2 349 875.7 347.3 881.5 348.1 884 349.8 882.3 353.1 876.5 354.8 873.5 352.3Z"/>
<ellipse class="g" cx="875.7" cy="351.1" rx="1.8" ry="2.5"/>
<path class="q" d="M881.5 348.1 879.8 354"/>
<g transform="rotate(22 908.1 373.1)"><ellipse class="p" cx="908.1" cy="373.1" rx="9.3" ry="16.3"/><ellipse class="q" cx="908.7" cy="373.6" rx="7.6" ry="14"/><path class="q" d="M909.1 361.6A5.8 11.5 0 0 1 909.1 384.6"/><path class="q" d="M908.6 364.1A4 9 0 0 1 908.6 382.1"/><path class="q" d="M901.1 364.1L906.1 361.1L908.1 369.1L903.1 373.1L900.6 381.1M903.1 373.1L908.1 376.1L905.1 386.1M908.1 369.1L913.1 367.1"/><circle class="g" cx="908.1" cy="373.1" r="2.6"/><circle class="k" cx="908.1" cy="373.1" r="1"/></g>
<path class="p" d="M927.1 389.6 929.6 383.8 935.4 381.3 937.9 377.2 942.1 378 942.9 382.2 947.9 383.8 948.7 390.5 944.6 399.6 939.6 407.9 937.9 412.9 934.6 411.2 929.6 402.9Z"/>
<path class="q" d="M929.6 383.8 933.8 390.5 946.2 386.3M933.8 390.5 932.1 402.9 937.9 412.9M932.1 402.9 944.6 399.6M935.4 381.3 937.1 384.7 942.9 382.2M937.9 393 942.9 390.5 944.6 394.6 940.4 397.1 937.9 393"/>
<ellipse class="k" cx="929.6" cy="387.2" rx="1.3" ry="1.3"/>
<ellipse class="k" cx="947.0" cy="385.5" rx="1.3" ry="1.3"/>
<ellipse class="k" cx="938.7" cy="379.7" rx="1.3" ry="1.3"/>
<ellipse class="k" cx="931.3" cy="401.3" rx="1.2" ry="1.2"/>
<ellipse class="k" cx="937.1" cy="410.4" rx="1.2" ry="1.2"/>
<path d="M955.4 400.5L961.4 403.9" stroke="#222" stroke-width="3.2" fill="none"/>
<ellipse class="p" cx="962.9" cy="404.7" rx="2" ry="3.4" transform="rotate(-28 962.9 404.7)"/>
<path class="q" d="M882.3 439 899.7 448.1 916.3 457.3 923 460.6 930.4 463.1M899.7 447.5 916.3 456.4M919.6 461.4 920.5 466.4 922.1 466.1 921.6 461.1M923 458.9 929.6 461.4 930.4 463.9 923.8 461.8 923 458.9"/>
<ellipse class="q" cx="916.3" cy="457.3" rx="1.0" ry="1.0"/>
<ellipse class="p" cx="869.8" cy="458.9" rx="2.8" ry="4.2" transform="rotate(-15 869.8 458.9)"/>
<ellipse class="q" cx="870.8" cy="459.4" rx="1.5" ry="2.8" transform="rotate(-15 870.8 459.4)"/>
<path class="p" d="M897.2 476.4 904.7 469.7 909.7 467.2 913 468.9 912.2 473 906.4 477.2 900.6 480.5 898.1 479.7Z"/>
<ellipse class="q" cx="908.0" cy="471.7" rx="2.2" ry="2.7"/>
<ellipse class="k" cx="908.0" cy="471.7" rx="0.8" ry="0.8"/>
<path class="q" d="M898.1 477.2 903 473"/>
<ellipse class="p" cx="925.0" cy="481.0" rx="2.3" ry="3.0"/>
<ellipse class="q" cx="925.0" cy="481.0" rx="1.0" ry="1.5"/>
<path d="M939.3 489.2L945.3 492.6" stroke="#222" stroke-width="3.2" fill="none"/>
<ellipse class="p" cx="946.8" cy="493.4" rx="2" ry="3.4" transform="rotate(-28 946.8 493.4)"/>
<path class="p" d="M849.8 533.2 853.9 529.1 860.6 529.1 863 533.2 862.2 538.2 855.6 540.7 850.6 538.2Z"/>
<ellipse class="q" cx="857.2" cy="534.0" rx="2.3" ry="2.0"/>
<ellipse class="k" cx="856.4" cy="534.5" rx="1.0" ry="1.0"/>
<path class="q" d="M853.9 529.1 854.7 532.4M862.2 538.2 859.7 535.7"/>
<path class="p" d="M870.5 557.3 874.7 545.7 883 533.2 889.6 525.7 891.3 529.1 896.2 536.5 895.4 544 891.3 553.1 887.9 557.3 883 555.6 877.2 556.4 873 560.6Z"/>
<path class="q" d="M876.3 544.8 884.6 534 892.9 537.4 894.6 543.2M876.3 544.8 883 549.8 891.3 553.1M883 549.8 887.9 541.5 884.6 534M874.7 545.7 878 551.5 877.2 556.4M883 530.7 889.6 533.2M886.3 528.2 887.1 531.5"/>
<ellipse class="p" cx="888.3" cy="549.5" rx="1.5" ry="2.2"/>
<ellipse class="k" cx="889.6" cy="527.4" rx="1.2" ry="1.2"/>
<ellipse class="k" cx="873.0" cy="558.4" rx="1.2" ry="1.2"/>
<ellipse class="k" cx="880.5" cy="542.3" rx="1.0" ry="1.0"/>
<ellipse class="k" cx="883.0" cy="535.7" rx="1.0" ry="1.0"/>
<path d="M912.1 540.7L918.1 544.1" stroke="#222" stroke-width="3.2" fill="none"/>
<ellipse class="p" cx="919.6" cy="544.9" rx="2" ry="3.4" transform="rotate(-28 919.6 544.9)"/>
<path class="p" d="M844.9 609.9 848.6 605.3 854.1 605.3 863.4 611.8 865.3 618.3 861.6 624.8 856 623.9 846.7 617.4Z"/>
<ellipse class="q" cx="849.5" cy="612.7" rx="2.8" ry="3.3"/>
<ellipse class="q" cx="857.9" cy="618.7" rx="2.8" ry="3.3"/>
<ellipse class="q" cx="850.1" cy="613.3" rx="1.9" ry="2.4"/>
<ellipse class="q" cx="858.4" cy="619.2" rx="1.9" ry="2.4"/>
<path class="q" d="M844.9 609.9 845.6 614.6 856 622 861.6 624.8"/>
<path class="p" d="M903.9 597.9 905.2 584.9 913.6 574.6 934 580.2 937.7 583 974.9 620.1 984.2 636.9 997.2 644.3 1002.7 648 1008.3 647.1 1010.2 651.7 1006.4 655.4 1013.9 659.1 1012.9 664.7 1004.6 674.9 995.3 672.2 965.6 661 956.3 656.4 952.6 648 945.2 638.7 941.4 625.7 926.6 609.9 919.1 607.1 911.7 603.4Z"/>
<path class="q" d="M913.6 574.6 913.6 590.4 905.2 584.9M913.6 590.4 921 605.3M928.4 581.1 921 605.3M934 580.2 931.2 583.9 922.9 601.6 921.9 606.2M926.6 609.9 941.4 623.9 958.2 631.3 961.9 636.9 958.2 648 965.6 661M927.5 608.1 942.4 622 959.1 629.4 962.8 635.9 960 647.1 966.5 659.1M974.9 620.1 971.2 625.7M984.2 636.9 974.9 648M997.2 644.3 987.9 657.3 995.3 672.2M987.9 657.3 965.6 661M987.9 649.9 1000.9 655.4 1004.6 662.9 997.2 664.7 991.6 657.3M991.6 657.3 1008.3 662.9M1002.7 648 1001.8 651.7 1006.4 655.4M930.3 582.6 923.8 600.6M945.2 638.7 956.3 644.3 958.2 648"/>
<ellipse class="q" cx="1009.2" cy="661.0" rx="0.9" ry="0.9"/>
<ellipse class="q" cx="1005.5" cy="650.2" rx="1.5" ry="1.5"/>
<ellipse class="q" cx="931.2" cy="583.9" rx="0.7" ry="0.7"/>
<ellipse class="q" cx="922.5" cy="603.4" rx="0.7" ry="0.7"/>
<path class="p" d="M762 655.2 772.2 647.6 782.3 647.6 812.8 657.8 817.9 661.6 828 666.6 833.1 671.7 830.6 678.1 812.8 679.3 787.4 671.7 782.3 665.4 774.7 666.6 764.6 660.3Z"/>
<path class="q" d="M772.2 647.6 773.5 653.9 782.3 656.5 787.4 662.8 812.8 671.7 830.6 671.7M773.5 653.9 764.6 660.3M782.3 647.6 783.6 652.7 812.8 662.8 817.9 661.6M792.5 656.5 793.8 660.3M807.7 661.6 809 665.4"/>
<ellipse class="p" cx="830.6" cy="674.8" rx="3.0" ry="4.1"/>
<ellipse class="k" cx="774.7" cy="656.0" rx="0.8" ry="0.8"/>
<ellipse class="k" cx="791.2" cy="659.5" rx="0.8" ry="0.8"/>
<ellipse class="k" cx="811.5" cy="657.0" rx="0.8" ry="0.8"/>
<path d="M729 638.7 741.7 646.3 757 645.1 772.2 636.2 787.4 628.6 807.7 640 823 641.2 843.3 628" fill="none" stroke="#3a3a3a" stroke-width="6.2" stroke-linejoin="round" stroke-linecap="butt"/>
<path d="M729 638.7 741.7 646.3 757 645.1 772.2 636.2 787.4 628.6 807.7 640 823 641.2 843.3 628" fill="none" stroke="#fff" stroke-width="3.8" stroke-linejoin="round" stroke-linecap="butt"/>
<path d="M708.7 614.6 749.3 634.1 759.5 631.6 777.3 620.2 787.4 619.7 817.9 632.4 833.1 623.5" fill="none" stroke="#3a3a3a" stroke-width="6.2" stroke-linejoin="round" stroke-linecap="butt"/>
<path d="M708.7 614.6 749.3 634.1 759.5 631.6 777.3 620.2 787.4 619.7 817.9 632.4 833.1 623.5" fill="none" stroke="#fff" stroke-width="3.8" stroke-linejoin="round" stroke-linecap="butt"/>
<path d="M757 632.6 764.1 628.6" fill="none" stroke="#3a3a3a" stroke-width="8.6" stroke-linejoin="round" stroke-linecap="butt"/>
<path d="M757 632.6 764.1 628.6" fill="none" stroke="#fff" stroke-width="6.2" stroke-linejoin="round" stroke-linecap="butt"/>
<path d="M767.1 639.2 773.7 635.4" fill="none" stroke="#3a3a3a" stroke-width="8.6" stroke-linejoin="round" stroke-linecap="butt"/>
<path d="M767.1 639.2 773.7 635.4" fill="none" stroke="#fff" stroke-width="6.2" stroke-linejoin="round" stroke-linecap="butt"/>
<path d="M819.2 631.6 825.5 627.8" fill="none" stroke="#3a3a3a" stroke-width="8.6" stroke-linejoin="round" stroke-linecap="butt"/>
<path d="M819.2 631.6 825.5 627.8" fill="none" stroke="#fff" stroke-width="6.2" stroke-linejoin="round" stroke-linecap="butt"/>
<path d="M826.8 638.7 833.1 634.6" fill="none" stroke="#3a3a3a" stroke-width="8.6" stroke-linejoin="round" stroke-linecap="butt"/>
<path d="M826.8 638.7 833.1 634.6" fill="none" stroke="#fff" stroke-width="6.2" stroke-linejoin="round" stroke-linecap="butt"/>
<path class="p" d="M655.4 591.7 706.2 619.7 727.8 636.2 726.5 641.2 720.1 642.5 663 608.2 656.7 596.8Z"/>
<path class="t" d="M657.4 593.5 660 603.2"/>
<path class="t" d="M659 594.5 661.6 604.2"/>
<path class="t" d="M660.6 595.5 663.2 605.1"/>
<path class="t" d="M662.2 596.5 664.8 606.1"/>
<path class="t" d="M663.8 597.5 666.4 607.1"/>
<path class="t" d="M665.4 598.5 668 608.1"/>
<path class="t" d="M667 599.5 669.6 609.1"/>
<path class="t" d="M668.6 600.4 671.2 610.1"/>
<path class="t" d="M670.2 601.4 672.8 611.1"/>
<path class="t" d="M671.8 602.4 674.4 612.1"/>
<path class="t" d="M673.4 603.4 676 613.1"/>
<path class="t" d="M675 604.4 677.6 614.1"/>
<path class="t" d="M676.6 605.4 679.2 615"/>
<path class="t" d="M678.2 606.4 680.8 616"/>
<path class="t" d="M679.8 607.4 682.4 617"/>
<path class="t" d="M681.4 608.4 684 618"/>
<path class="t" d="M683 609.4 685.6 619"/>
<path class="t" d="M684.6 610.3 687.2 620"/>
<path class="t" d="M686.2 611.3 688.8 621"/>
<path class="t" d="M687.8 612.3 690.4 622"/>
<path class="t" d="M689.4 613.3 692 623"/>
<path class="t" d="M691 614.3 693.6 624"/>
<path class="t" d="M692.6 615.3 695.2 624.9"/>
<path class="t" d="M694.2 616.3 696.8 625.9"/>
<path class="t" d="M695.8 617.3 698.4 626.9"/>
<path class="t" d="M697.4 618.3 700 627.9"/>
<path class="t" d="M699 619.3 701.6 628.9"/>
<path class="t" d="M700.6 620.3 703.2 629.9"/>
<path class="t" d="M702.2 621.2 704.8 630.9"/>
<path class="t" d="M703.8 622.2 706.3 631.9"/>
<path class="t" d="M705.4 623.2 707.9 632.9"/>
<path class="t" d="M707 624.2 709.5 633.9"/>
<path class="t" d="M708.6 625.2 711.1 634.9"/>
<path class="t" d="M710.2 626.2 712.7 635.8"/>
<path class="t" d="M711.8 627.2 714.3 636.8"/>
<path class="t" d="M713.4 628.2 715.9 637.8"/>
<path class="t" d="M715 629.2 717.5 638.8"/>
<path class="t" d="M716.6 630.2 719.1 639.8"/>
<path class="t" d="M718.2 631.1 720.7 640.8"/>
<path class="t" d="M719.8 632.1 722.3 641.8"/>
<path class="p" d="M645.2 579 649 574 706.2 607 712.5 605.7 715.1 610.8 706.2 617.1 703.6 614.6 646.5 582.9Z"/>
<path class="q" d="M649 574 650.3 579 704.9 610.8 706.2 607M646.5 582.9 655.4 591.7M706.2 617.1 727.8 636.2M703.6 614.6 706.2 619.7"/>
<path class="q" d="M655.4 585.4 656.2 590"/>
<path class="q" d="M661.7 589.1 662.5 593.6"/>
<path class="q" d="M668.1 592.8 668.8 597.3"/>
<path class="q" d="M674.4 596.4 675.2 601"/>
<path class="q" d="M680.8 600.1 681.5 604.7"/>
<path class="q" d="M687.1 603.8 687.9 608.4"/>
<path class="q" d="M693.5 607.5 694.2 612.1"/>
<path class="q" d="M699.8 611.2 700.6 615.7"/>
<path class="p" d="M720.1 642.5 727.8 632.4 732.8 633.6 733.6 638.7 726.5 645.1Z"/>
<path class="p" d="M703.6 608.2 711.2 604.4 716.3 609.5 715.1 614.6 707.4 618.4Z"/>
<path class="p" d="M757 676.8 763.3 673 772.2 674.3 779.8 681.9 772.2 687 762 684.4Z"/>
<path class="q" d="M763.3 673 764.6 679.3 772.2 687M764.6 679.3 757 676.8M769.6 671.7 770.2 679.3"/>
<path class="p" d="M755.6 272.6 759.8 272.6 759.8 274.3 758.9 274.3 758.9 281.6 756.4 281.6 756.4 274.3 755.6 274.3Z"/>
<path class="p" d="M729.9 312.3 733.2 309.8 739 312.3 753.1 299.8 758.1 296.5 758.9 304.8 749.8 314.8 749.8 318.9 745.7 324.7 739 318.9 736.5 316.4Z"/>
<path class="q" d="M739 312.3 742.3 316.4 757.3 302.3M742.3 316.4 745.7 324.7M733.2 309.8 736.5 316.4M742.3 316.4 739 318.9M747.3 312.3 748.1 317.3M753.1 299.8 754 304.8"/>
<ellipse class="k" cx="736.9" cy="313.9" rx="0.7" ry="0.7"/>
<path class="p" d="M794.3 323.9 796.3 321.7 811.2 329.7 811.6 339.7 809.6 340.5 794.6 332.2Z"/>
<path class="q" d="M796.3 321.7 796.6 330.5 809.6 338 811.6 339.7M796.6 330.5 794.6 332.2"/>
<ellipse class="q" cx="798.3" cy="327.5" rx="0.7" ry="0.7"/>
<ellipse class="q" cx="807.9" cy="333.0" rx="0.7" ry="0.7"/>
<g transform="scale(0.955,1)" style="font-size:13.4px">
<text x="355.5" y="18.5">97105B</text>
<text x="127.2" y="41.3">97271F</text>
<text x="181.2" y="39.3">97218G</text>
<text x="207.3" y="50">97269B</text>
<text x="238.4" y="61.8">97241L</text>
<text x="294.2" y="49.5">97256D</text>
<text x="429.3" y="48">97218K</text>
<text x="429.3" y="70">97165</text>
<text x="92.7" y="55">97218G</text>
<text x="165.1" y="76.8">97236K</text>
<text x="264.9" y="75">97224C</text>
<text x="334.0" y="87.5">97211V</text>
<text x="36.6" y="93">97282C</text>
<text x="54.1" y="106.3">97218G</text>
<text x="69.8" y="116">97235C</text>
<text x="182.7" y="132.5">97213G</text>
<text x="58.3" y="150">97218G</text>
<text x="120.9" y="151.3">97111B</text>
<text x="88.2" y="162.5">97256D</text>
<text x="147.1" y="169.3">97110C</text>
<text x="124.1" y="183.7">97100E</text>
<text x="36.3" y="210">97129A</text>
<text x="42.9" y="231.2">97157B</text>
<text x="116.8" y="251.2">97157B</text>
<text x="91.8" y="272.5">97176G</text>
<text x="146.3" y="268.7">97176F</text>
<text x="191.6" y="271.7">97168A</text>
<text x="226.4" y="249.5">97238C</text>
<text x="240.0" y="292.5">97473</text>
<text x="227.4" y="320.5">97246L</text>
<text x="261.8" y="347.5">97616A</text>
<text x="497.4" y="130">97107D</text>
<text x="437.7" y="179.5">97144E</text>
<text x="468.1" y="197.5">97107G</text>
<text x="459.7" y="246.5">97107K</text>
<text x="592.7" y="49">97246J</text>
<text x="651.8" y="54">97246J</text>
<text x="536.6" y="82.5">97246H</text>
<text x="568.6" y="162.5">97246K</text>
<text x="594.2" y="174.5">97246K</text>
<text x="622.5" y="188.5">97246K</text>
<text x="649.2" y="165">97246H</text>
<text x="551.3" y="237">97206C</text>
<text x="682.2" y="233">97107E</text>
<text x="647.6" y="296.5">97107H</text>
<text x="684.3" y="316">97144G</text>
<text x="643.5" y="346.5">97107L</text>
<text x="814.1" y="281">97218K</text>
<text x="815.2" y="303.5">97165</text>
<text x="821.5" y="315.5">97024A</text>
<text x="895.3" y="327.5">97224C</text>
<text x="929.3" y="339.5">97242M</text>
<text x="826.7" y="355.3">97212S</text>
<text x="960.2" y="358.5">97272G</text>
<text x="942.4" y="63">1125KE</text>
<text x="747.6" y="160.5">1018AD</text>
<text x="1005.8" y="212">1327AC</text>
<text x="233.5" y="366.5">97108D</text>
<text x="110.5" y="433">97319D</text>
<text x="102.6" y="532.5">97189D</text>
<text x="115.7" y="555">97137D</text>
<text x="137.2" y="668.5">97218G</text>
<text x="497.4" y="491.5">97215L</text>
<text x="607.3" y="438.5">97216M</text>
<text x="677.5" y="433">97144F</text>
<text x="562.3" y="461.5">97215K</text>
<text x="666.5" y="502">97047</text>
<text x="712.0" y="557.5">97473</text>
<text x="756.5" y="587">97246L</text>
<text x="789.8" y="602.3">97187C</text>
<text x="837.7" y="611.5">97256D</text>
<text x="816.2" y="527.5">97156</text>
<text x="844.0" y="548.5">97213G</text>
<text x="877.0" y="515.5">97237E</text>
<text x="942.4" y="527.5">97218G</text>
<text x="890.9" y="582">97273D</text>
<text x="877.0" y="595.5">97230H</text>
<text x="886.4" y="492">97110C</text>
<text x="919.9" y="503.5">97223G</text>
<text x="946.1" y="514.5">97235C</text>
<text x="970.7" y="476">97218G</text>
<text x="935.1" y="436.5">97614H</text>
<text x="986.4" y="436.5">97218G</text>
<text x="583.2" y="602.5">97651</text>
<text x="718.3" y="663">97213K</text>
<text x="728.3" y="684">97314E</text>
<text x="877.0" y="669.5">97171E</text>
<text x="993.2" y="691.5">97282D</text>
</g>
<text x="964.8" y="62.2" style="font-size:17px;stroke:#111;stroke-width:.5px">FR.</text>
</svg>
</body></html>
